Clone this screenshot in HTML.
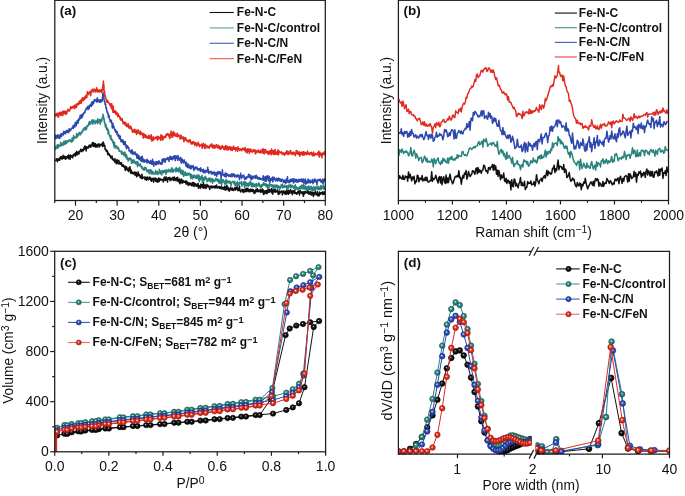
<!DOCTYPE html><html><head><meta charset="utf-8"><style>html,body{margin:0;padding:0;background:#fff;overflow:hidden}text{font-family:'Liberation Sans', sans-serif}</style></head><body><svg width="685" height="496" viewBox="0 0 685 496" style="display:block;will-change:transform;font-family:'Liberation Sans', sans-serif;fill:#111"><defs><clipPath id="ca"><rect x="54.8" y="0.3" width="270.5" height="200.2"/></clipPath><clipPath id="cb"><rect x="398.4" y="0.3" width="270.1" height="200.2"/></clipPath><radialGradient id="gk" cx="0.5" cy="0.5" r="0.5" fx="0.4" fy="0.37"><stop offset="0" stop-color="#ffffff"/><stop offset="0.1" stop-color="#b0b0b0"/><stop offset="0.26" stop-color="#3a3a3a"/><stop offset="0.5" stop-color="#141414"/><stop offset="1" stop-color="#000"/></radialGradient><radialGradient id="gt" cx="0.5" cy="0.5" r="0.5" fx="0.4" fy="0.37"><stop offset="0" stop-color="#ffffff"/><stop offset="0.1" stop-color="#e6f4f2"/><stop offset="0.26" stop-color="#6fb3ad"/><stop offset="0.5" stop-color="#2a8a84"/><stop offset="1" stop-color="#1f6662"/></radialGradient><radialGradient id="gb" cx="0.5" cy="0.5" r="0.5" fx="0.4" fy="0.37"><stop offset="0" stop-color="#ffffff"/><stop offset="0.1" stop-color="#e8ecff"/><stop offset="0.26" stop-color="#7088d8"/><stop offset="0.5" stop-color="#3150c0"/><stop offset="1" stop-color="#223a94"/></radialGradient><radialGradient id="gr" cx="0.5" cy="0.5" r="0.5" fx="0.4" fy="0.37"><stop offset="0" stop-color="#ffffff"/><stop offset="0.1" stop-color="#ffe8e4"/><stop offset="0.26" stop-color="#f47a6e"/><stop offset="0.5" stop-color="#e8321f"/><stop offset="1" stop-color="#b8231a"/></radialGradient></defs><rect width="685" height="496" fill="#fff"/><path d="M55.3 160.44L55.6 160.76L55.9 159.95L56.2 159.08L56.5 159.58L56.8 158.82L57.1 160.12L57.4 161.71L57.7 159.26L58 159.02L58.3 160.39L58.6 160.15L58.9 159.75L59.2 158.33L59.5 159.43L59.8 160.29L60.1 157.56L60.4 158.64L60.7 156.69L61 157.4L61.3 156.61L61.6 158.62L61.9 157.19L62.2 159.11L62.5 158.88L62.8 158.36L63.1 155.24L63.4 157.73L63.7 158.28L64 158.39L64.3 156.16L64.6 157.43L64.9 156.69L65.2 156.81L65.5 159.15L65.8 156.62L66.1 157.54L66.4 158.64L66.7 156.65L67 157.18L67.3 157.39L67.6 157.26L67.9 155.52L68.2 157.14L68.5 158.75L68.8 154.91L69.1 157.98L69.4 156.96L69.7 155.91L70 159.28L70.3 157.6L70.6 154.98L70.9 156.56L71.2 157.14L71.5 156.05L71.8 157.09L72.1 156.02L72.4 156.86L72.7 157.75L73 154.88L73.3 155.89L73.6 154.89L73.9 155.52L74.2 153.66L74.5 154.3L74.8 154.64L75.1 155.91L75.4 156.07L75.7 152.69L76 153.21L76.3 154.9L76.6 151.26L76.9 153.03L77.2 153.28L77.5 154.8L77.8 153.82L78.1 152.25L78.4 151.94L78.7 151.85L79 153.91L79.3 151.14L79.6 151.08L79.9 151.72L80.2 150.9L80.5 150.62L80.8 149.26L81.1 150.52L81.4 149.79L81.7 151.73L82 150.91L82.3 149.87L82.6 150.63L82.9 149.17L83.2 150.83L83.5 149.32L83.8 149.94L84.1 147.36L84.4 149.34L84.7 146.56L85 145.96L85.3 148.06L85.6 147.15L85.9 148.39L86.2 150.95L86.5 146.81L86.8 146.94L87.1 147.88L87.4 148.11L87.7 147.11L88 146.94L88.3 147.99L88.6 147.63L88.9 145.49L89.2 146.61L89.5 146.64L89.8 145.09L90.1 146.66L90.4 145.07L90.7 147.31L91 146.17L91.3 145.91L91.6 144.91L91.9 145.41L92.2 142.88L92.5 143.93L92.8 145.81L93.1 142.54L93.4 146.39L93.7 143.03L94 146.29L94.3 144.22L94.6 146.34L94.9 145.52L95.2 143.37L95.5 147.01L95.8 147.28L96.1 145.34L96.4 145.08L96.7 145.25L97 144.2L97.3 146.9L97.6 144.77L97.9 145.41L98.2 144.44L98.5 144.65L98.8 143.79L99.1 147.06L99.4 145.21L99.7 146.64L100 145.38L100.3 144.43L100.6 144.87L100.9 144.53L101.2 145.23L101.5 144.68L101.8 144.7L102.1 143.19L102.4 143.75L102.7 146.62L103 143.1L103.3 142.06L103.4 143.91L103.6 145.91L103.9 143.49L104.2 146.1L104.5 146.33L104.8 145.57L105.1 149.48L105.4 149.15L105.7 149.89L106 149.41L106.3 151.51L106.6 150.68L106.9 151.63L107.2 150.8L107.5 151.06L107.8 154.77L108.1 152.76L108.4 154.16L108.7 154.1L109 153.92L109.3 154.18L109.6 155.99L109.9 155.12L110.2 155.64L110.5 156.19L110.8 158.01L111.1 157.69L111.4 157.62L111.7 156.7L112 155.94L112.3 159.27L112.6 159.59L112.9 158.43L113.2 159.6L113.5 160.18L113.8 160.51L114.1 160.88L114.4 159.33L114.7 162.12L115 158.76L115.3 161.72L115.6 161.46L115.9 162.17L116.2 163.68L116.5 163.38L116.8 160.16L117.1 159.66L117.4 163.12L117.7 160.95L118 162.46L118.3 163.77L118.6 160.76L118.9 160.37L119.2 163.67L119.5 163.61L119.8 163.46L120.1 164.05L120.4 163.1L120.7 162.48L121 164.45L121.3 163.63L121.6 162.98L121.9 166L122.2 165.49L122.5 166.32L122.8 164.73L123.1 165.38L123.4 165.16L123.7 165.53L124 167.16L124.3 166.1L124.6 167.8L124.9 167.99L125.2 170.4L125.5 166.17L125.8 169.34L126.1 168.28L126.4 168.58L126.7 166.92L127 168.4L127.3 170.16L127.6 169.29L127.9 169.7L128.2 169.41L128.5 171.48L128.8 170.15L129.1 167.51L129.4 169.67L129.7 168.2L130 166.72L130.3 170.45L130.6 173.06L130.9 171.57L131.2 170.16L131.5 170.65L131.8 173.52L132.1 172.43L132.4 172.45L132.7 172.49L133 172.78L133.3 173.93L133.6 173.76L133.9 173.48L134.2 171.99L134.5 174.16L134.8 172.75L135.1 175.21L135.4 172.27L135.7 173.89L136 174.19L136.3 172.61L136.6 176.71L136.9 176.5L137.2 174.13L137.5 175.86L137.8 175.48L138.1 171.71L138.4 175.56L138.7 175.27L139 175.58L139.3 174.18L139.6 175.35L139.9 175.58L140.2 177.46L140.5 176.46L140.8 176.12L141.1 178.22L141.4 175.61L141.7 175.93L142 174.17L142.3 178.67L142.6 177.99L142.9 178.03L143.2 177.81L143.5 177.19L143.8 177.43L144.1 176.92L144.4 177.09L144.7 177.53L145 179.53L145.3 178.39L145.6 177.69L145.9 177.12L146.2 177.14L146.5 180.15L146.8 178.82L147.1 178.35L147.4 177.9L147.7 177L148 178.44L148.3 179.75L148.6 178.19L148.9 178.48L149.2 178.57L149.5 179.07L149.8 176.93L150.1 178.76L150.4 178.02L150.7 180.34L151 178.24L151.3 180.04L151.6 181.32L151.9 178.97L152.2 178.63L152.5 179.69L152.8 179.47L153.1 178.2L153.4 180.1L153.7 182.14L154 179.19L154.3 179.28L154.6 178.2L154.9 179.98L155.2 177.96L155.5 178.15L155.8 181.26L156.1 178.43L156.4 181.02L156.7 181.61L157 179.97L157.3 180.36L157.6 182.19L157.9 179.4L158.2 178.89L158.5 177.91L158.8 179.73L159.1 181.6L159.4 180.93L159.7 178.47L160 178.58L160.3 179.04L160.6 180.08L160.9 179.43L161.2 179.98L161.5 180.08L161.8 179.3L162.1 179.63L162.4 179.93L162.7 179.53L163 180.27L163.3 182.02L163.6 180.33L163.9 179.6L164.2 177.3L164.5 179.96L164.8 176.89L165.1 177.55L165.4 180.46L165.7 180.23L166 179.08L166.3 177.02L166.6 178.73L166.9 178.3L167.2 179.99L167.5 182.07L167.8 179.4L168.1 178.09L168.4 177.58L168.7 179.03L169 178.87L169.3 177.6L169.6 179.26L169.9 177.61L170.2 180.56L170.5 180.5L170.8 180.53L171.1 178.51L171.4 179.8L171.7 178.97L172 178.64L172.3 178.71L172.6 177.47L172.9 177.3L173.2 180.22L173.5 178.95L173.8 179.49L174.1 180.52L174.4 176.98L174.7 178.22L175 179.48L175.3 179.78L175.6 178.79L175.9 180.64L176.2 179.6L176.5 177.78L176.8 178.21L177.1 180.53L177.4 180.16L177.7 177.18L178 181.51L178.3 180.64L178.6 181.73L178.9 179.61L179.2 179.85L179.5 178.91L179.8 183.81L180.1 180.42L180.4 182.86L180.7 180.1L181 181.29L181.3 179.05L181.6 180.86L181.9 182.77L182.2 179.99L182.5 183.14L182.8 182.3L183.1 180.61L183.4 181.41L183.7 181.57L184 182.2L184.3 181.67L184.6 181.39L184.9 182.16L185.2 181.32L185.5 181.08L185.8 182.79L186.1 184.09L186.4 181.05L186.7 183.14L187 182.38L187.3 182.05L187.6 184.52L187.9 182.82L188.2 185.53L188.5 182.66L188.8 184.26L189.1 183.54L189.4 182.94L189.7 184.76L190 183.87L190.3 184.93L190.6 184.16L190.9 182.89L191.2 184.24L191.5 184.51L191.8 185.76L192.1 183.4L192.4 184.6L192.7 182.48L193 185.63L193.3 183.45L193.6 182.57L193.9 184.91L194.2 186.48L194.5 183.13L194.8 183.75L195.1 184.26L195.4 183.82L195.7 185.84L196 184.35L196.3 184.52L196.6 186.26L196.9 184.57L197.2 186.17L197.5 184.39L197.8 184.12L198.1 183.36L198.4 188.21L198.7 185.42L199 186.19L199.3 185.88L199.6 186.17L199.9 186.06L200.2 188.52L200.5 184.73L200.8 184.09L201.1 184.84L201.4 184.46L201.7 187.2L202 187.34L202.3 185.06L202.6 184.53L202.9 185.92L203.2 188.22L203.5 182.78L203.8 187.17L204.1 185.12L204.4 187.9L204.7 185.18L205 186.24L205.3 184.69L205.6 185.41L205.9 188.51L206.2 187.81L206.5 186.25L206.8 185.67L207.1 184.37L207.4 186.35L207.7 186.86L208 186.82L208.3 186.83L208.6 185.53L208.9 186.93L209.2 187L209.5 188.75L209.8 189.53L210.1 186.96L210.4 186.17L210.7 187.11L211 186.43L211.3 186.28L211.6 187.2L211.9 185.95L212.2 188.12L212.5 187.23L212.8 187.72L213.1 187.18L213.4 186.51L213.7 186.25L214 187.2L214.3 186.83L214.6 187.87L214.9 187.59L215.2 185.85L215.5 187.74L215.8 185.94L216.1 186.91L216.4 187.36L216.7 185.07L217 187.91L217.3 188.02L217.6 187.65L217.9 187.33L218.2 187.42L218.5 186.66L218.8 187.61L219.1 187.27L219.4 188.13L219.7 186.48L220 188.38L220.3 188.28L220.6 187.94L220.9 187.58L221.2 188.89L221.5 186.04L221.8 188.83L222.1 188.57L222.4 188.65L222.7 188.8L223 187.48L223.3 188.02L223.6 189.21L223.9 188.97L224.2 188.7L224.5 186.49L224.8 189.18L225.1 190.03L225.4 189.85L225.7 188.86L226 186.56L226.3 189.83L226.6 188.44L226.9 185.37L227.2 189.17L227.5 186.77L227.8 187.05L228.1 187.93L228.4 190.44L228.7 188.32L229 189.18L229.3 191.13L229.6 190.95L229.9 188.77L230.2 188.61L230.5 187.31L230.8 188.07L231.1 189.55L231.4 189.54L231.7 189.19L232 190.36L232.3 188.09L232.6 189.04L232.9 190.09L233.2 189.92L233.5 190.58L233.8 189.72L234.1 188.83L234.4 189.72L234.7 187.97L235 187.17L235.3 190.08L235.6 189.27L235.9 189.77L236.2 187.19L236.5 188.94L236.8 188.66L237.1 188.34L237.4 186.55L237.7 189.07L238 190.7L238.3 190.05L238.6 188.79L238.9 189.58L239.2 190.6L239.5 186.05L239.8 189.5L240.1 190.39L240.4 190.6L240.7 191.94L241 191.23L241.3 190.18L241.6 190.19L241.9 190.84L242.2 189.14L242.5 189.81L242.8 191.06L243.1 192.45L243.4 189.72L243.7 189.89L244 190.23L244.3 191.74L244.6 189.97L244.9 191.94L245.2 188.8L245.5 189.83L245.8 189.84L246.1 191.14L246.4 191.5L246.7 188.2L247 188.99L247.3 190.64L247.6 189.36L247.9 188.26L248.2 191.61L248.5 190.92L248.8 190.94L249.1 189.7L249.4 191.68L249.7 190.05L250 191.8L250.3 189.21L250.6 189.31L250.9 190.7L251.2 189.54L251.5 191.35L251.8 190.83L252.1 189.31L252.4 190.62L252.7 190.09L253 191.75L253.3 189.76L253.6 190.03L253.9 192.19L254.2 193.55L254.5 193.25L254.8 190.75L255.1 190.97L255.4 192.7L255.7 190.56L256 189.47L256.3 190.91L256.6 191.36L256.9 189.71L257.2 188.66L257.5 188.95L257.8 191.7L258.1 189.86L258.4 190.68L258.7 191.16L259 191.7L259.3 190.48L259.6 191.58L259.9 189.79L260.2 190.49L260.5 189.64L260.8 192.46L261.1 190.97L261.4 190.06L261.7 190.57L262 190.76L262.3 191.97L262.6 189L262.9 189.74L263.2 190.61L263.5 194.41L263.8 192.38L264.1 191L264.4 192.09L264.7 193.85L265 190.89L265.3 190.73L265.6 192.8L265.9 191.88L266.2 192.12L266.5 190.6L266.8 193.78L267.1 193.52L267.4 192.04L267.7 192.21L268 188.7L268.3 192.18L268.6 191.11L268.9 191.94L269.2 192.28L269.5 190.96L269.8 189.23L270.1 191.92L270.4 190.49L270.7 191.04L271 190.7L271.3 191.05L271.6 188.51L271.9 193.11L272.2 191.87L272.5 193L272.8 194.14L273.1 191.61L273.4 189.26L273.7 190.45L274 190.06L274.3 190.99L274.6 191.76L274.9 189.07L275.2 192.14L275.5 189.74L275.8 192.11L276.1 191.6L276.4 191.35L276.7 191.68L277 191.09L277.3 191.01L277.6 189.63L277.9 191.8L278.2 194.25L278.5 194.44L278.8 193.6L279.1 192.82L279.4 191.04L279.7 193.81L280 191.88L280.3 191.88L280.6 191.6L280.9 192.12L281.2 191.45L281.5 191.92L281.8 190.64L282.1 191.58L282.4 195.05L282.7 192.01L283 191.8L283.3 192.82L283.6 193.07L283.9 190.71L284.2 191.91L284.5 193.39L284.8 192.56L285.1 192.38L285.4 194.26L285.7 191.37L286 192.38L286.3 191.61L286.6 194.24L286.9 189.78L287.2 191.46L287.5 191.66L287.8 193.22L288.1 193.16L288.4 194.2L288.7 190.36L289 193.39L289.3 192.05L289.6 191.58L289.9 193.16L290.2 191.28L290.5 189.79L290.8 192.02L291.1 190.56L291.4 191.68L291.7 193.02L292 192.95L292.3 194.62L292.6 192.31L292.9 190.59L293.2 191.61L293.5 191.41L293.8 191.04L294.1 193.2L294.4 191.8L294.7 190.08L295 193.57L295.3 192.53L295.6 193.15L295.9 192.83L296.2 193.53L296.5 192.77L296.8 194.34L297.1 193.29L297.4 193.26L297.7 193.29L298 190.88L298.3 192.57L298.6 192.45L298.9 193.07L299.2 191.05L299.5 194.95L299.8 192.97L300.1 191.27L300.4 190.63L300.7 192.5L301 192.76L301.3 191.95L301.6 193.01L301.9 192.07L302.2 193.63L302.5 191.98L302.8 192.88L303.1 194.21L303.4 196.29L303.7 191.65L304 192.36L304.3 191.88L304.6 194L304.9 191.5L305.2 192.37L305.5 192.97L305.8 191.75L306.1 191.78L306.4 192.42L306.7 190.31L307 191.17L307.3 192.52L307.6 193.26L307.9 192.84L308.2 190.78L308.5 192.49L308.8 194.14L309.1 193.83L309.4 193.01L309.7 191.97L310 193.95L310.3 192.39L310.6 191.62L310.9 192.11L311.2 195.04L311.5 193.45L311.8 194.68L312.1 192.56L312.4 194.4L312.7 192.41L313 192.99L313.3 196.44L313.6 194.21L313.9 192.56L314.2 193.11L314.5 193.65L314.8 194.81L315.1 192.6L315.4 190.98L315.7 192.89L316 193.28L316.3 193.41L316.6 194.98L316.9 193.69L317.2 194.34L317.5 191.85L317.8 194.42L318.1 196.02L318.4 194.31L318.7 193.63L319 193.51L319.3 195.64L319.6 192.11L319.9 193.18L320.2 193.93L320.5 194.3L320.8 192.77L321.1 193.74L321.4 192.99L321.7 193.51L322 193.18L322.3 191.88L322.6 193.34L322.9 194.51L323.2 192.12L323.5 193.06L323.8 194.24L324.1 191.99L324.4 193.63L324.7 192.01L325 194.87" fill="none" stroke="#111111" stroke-width="1.5" stroke-linejoin="round" clip-path="url(#ca)"/><path d="M55.3 149.69L55.6 149.26L55.9 146.29L56.2 147.47L56.5 146.59L56.8 146.49L57.1 148.29L57.4 144.48L57.7 147.48L58 145.96L58.3 147.76L58.6 146.07L58.9 144.86L59.2 145.99L59.5 146.47L59.8 145.43L60.1 145.88L60.4 144.41L60.7 142.16L61 145.93L61.3 145.5L61.6 144.61L61.9 144.32L62.2 145.4L62.5 143.28L62.8 142.78L63.1 143.28L63.4 144.91L63.7 141.4L64 144.6L64.3 142.07L64.6 141.33L64.9 144.27L65.2 142.37L65.5 140.68L65.8 141.78L66.1 143.33L66.4 143.55L66.7 141.32L67 142.28L67.3 142.55L67.6 140.66L67.9 141.83L68.2 141.19L68.5 140.4L68.8 140.31L69.1 140.89L69.4 140.68L69.7 139.74L70 139.76L70.3 141.59L70.6 140.24L70.9 140.93L71.2 141.16L71.5 140.18L71.8 142.18L72.1 137.96L72.4 139.89L72.7 138.24L73 140.87L73.3 140.48L73.6 135.54L73.9 136.63L74.2 138.56L74.5 138.54L74.8 138.29L75.1 137.06L75.4 137.57L75.7 137.65L76 136.53L76.3 137.79L76.6 133.34L76.9 136.92L77.2 134.56L77.5 136.96L77.8 135.22L78.1 134.16L78.4 135.59L78.7 133.7L79 133.47L79.3 132.38L79.6 134.12L79.9 134.51L80.2 134.89L80.5 133.06L80.8 134.27L81.1 132.58L81.4 132.08L81.7 132.59L82 132.86L82.3 130.67L82.6 130.44L82.9 130.19L83.2 130.16L83.5 128.55L83.8 130.73L84.1 128.57L84.4 129.4L84.7 127.44L85 128.69L85.3 128.45L85.6 127.12L85.9 130.02L86.2 127.6L86.5 129.16L86.8 127.83L87.1 125.46L87.4 125.57L87.7 126.39L88 125.65L88.3 125.4L88.6 124.73L88.9 122.53L89.2 124.37L89.5 121.56L89.8 124.7L90.1 123.05L90.4 122.83L90.7 123.23L91 123.64L91.3 121.19L91.6 120.56L91.9 121.23L92.2 119.76L92.5 120.97L92.8 124.13L93.1 120.54L93.4 122.63L93.7 119.9L94 122L94.3 121.16L94.6 121.47L94.9 122.27L95.2 123.79L95.5 121.75L95.8 121.64L96.1 120.2L96.4 122.21L96.7 121.12L97 122.5L97.3 121.35L97.6 123.66L97.9 118.8L98.2 120.97L98.5 122.48L98.8 120.85L99.1 120.25L99.4 120.89L99.7 119.4L100 121.29L100.3 124.23L100.6 122.44L100.9 119.39L101.2 119.52L101.5 119.87L101.8 121.3L102.1 118.23L102.4 117.12L102.7 117.14L103 115.81L103 114.2L103.3 115.15L103.6 117.09L103.9 119.83L104.2 118.9L104.5 123.56L104.8 122.44L105.1 124.51L105.4 126.95L105.7 126.75L106 124.51L106.3 127.97L106.6 129.22L106.9 127.65L107.2 128.3L107.5 130.31L107.8 129.25L108.1 134.09L108.4 129.83L108.7 132.22L109 133.99L109.3 134.71L109.6 135.88L109.9 136.66L110.2 136.66L110.5 139.04L110.8 135.39L111.1 138.76L111.4 138.41L111.7 140.07L112 140.73L112.3 139.78L112.6 140.64L112.9 142.99L113.2 142.89L113.5 142.01L113.8 145.99L114.1 146.77L114.4 142.29L114.7 145L115 148.27L115.3 146.43L115.6 146.08L115.9 145.9L116.2 145.84L116.5 146.63L116.8 146.55L117.1 148.58L117.4 147.44L117.7 147.73L118 147.07L118.3 148.9L118.6 148.13L118.9 149.38L119.2 151.29L119.5 150.72L119.8 151.21L120.1 151.32L120.4 151.23L120.7 151.28L121 151.34L121.3 153.02L121.6 150.9L121.9 154.34L122.2 152.91L122.5 152.17L122.8 152.78L123.1 152.8L123.4 154.16L123.7 153.28L124 155.96L124.3 153.71L124.6 152.03L124.9 154.29L125.2 152.88L125.5 155.69L125.8 157.37L126.1 157.09L126.4 154.75L126.7 155.74L127 159.28L127.3 157.62L127.6 157.45L127.9 159.04L128.2 161.09L128.5 159.81L128.8 158.53L129.1 159.04L129.4 159.6L129.7 158.22L130 157.86L130.3 159.52L130.6 158.44L130.9 159.8L131.2 160.22L131.5 163.35L131.8 159.41L132.1 160.57L132.4 160.72L132.7 161.71L133 162.71L133.3 160.91L133.6 160.68L133.9 159.82L134.2 160.94L134.5 163.04L134.8 162.6L135.1 161.42L135.4 162.46L135.7 163.18L136 163.99L136.3 162.76L136.6 163.41L136.9 161.57L137.2 162.63L137.5 166.43L137.8 161.68L138.1 164.29L138.4 165.21L138.7 164.63L139 164.27L139.3 165.44L139.6 165.71L139.9 165.8L140.2 163.66L140.5 166.1L140.8 165.38L141.1 165.97L141.4 167.17L141.7 167.89L142 168.42L142.3 166.8L142.6 168.85L142.9 169.37L143.2 169.52L143.5 170.05L143.8 168.25L144.1 168.41L144.4 169.9L144.7 167.24L145 169.48L145.3 168.7L145.6 169.09L145.9 167.47L146.2 168.74L146.5 170.03L146.8 171.36L147.1 171.63L147.4 170.38L147.7 170.39L148 169.7L148.3 171.45L148.6 170.76L148.9 172.01L149.2 173.65L149.5 171.47L149.8 169.71L150.1 170.67L150.4 170.02L150.7 170.48L151 173.85L151.3 172.54L151.6 170.36L151.9 173.27L152.2 174.12L152.5 172.07L152.8 171.7L153.1 172.16L153.4 172.97L153.7 173.43L154 174.13L154.3 174.17L154.6 174.13L154.9 174.36L155.2 173.45L155.5 170.59L155.8 172.41L156.1 172.98L156.4 172.07L156.7 173.75L157 172.09L157.3 171.34L157.6 174.42L157.9 173.4L158.2 172.81L158.5 173.72L158.8 173.88L159.1 172.93L159.4 169.28L159.7 171.59L160 171.86L160.3 171.16L160.6 172.69L160.9 173.97L161.2 171.77L161.5 170.91L161.8 174.99L162.1 171.71L162.4 170.63L162.7 172.46L163 172.61L163.3 171.04L163.6 172.87L163.9 171.09L164.2 170.4L164.5 171.7L164.8 172.34L165.1 170.38L165.4 171.5L165.7 170.82L166 174.49L166.3 169.77L166.6 172.38L166.9 170.41L167.2 170.21L167.5 171.23L167.8 171.38L168.1 171.81L168.4 170.55L168.7 169.31L169 169.37L169.3 170.71L169.6 170.79L169.9 171.83L170.2 170.54L170.5 171.35L170.8 171.93L171.1 170.15L171.4 167.99L171.7 168.38L172 168.03L172.3 171.95L172.6 168.77L172.9 171.46L173.2 170.61L173.5 172.07L173.8 171.13L174.1 169.69L174.4 169.55L174.7 169.92L175 170.03L175.3 169.11L175.6 169.76L175.9 171.89L176.2 167.6L176.5 170.17L176.8 168.7L177.1 170.18L177.4 171.09L177.7 170.01L178 171.19L178.3 168.22L178.6 171.84L178.9 169.74L179.2 171.46L179.5 171.03L179.8 167.57L180.1 170.1L180.4 171.52L180.7 173.4L181 171.91L181.3 172.03L181.6 170.01L181.9 173.86L182.2 174.49L182.5 172.32L182.8 172.14L183.1 170.45L183.4 173.83L183.7 176.33L184 173.89L184.3 174.74L184.6 173.95L184.9 172.11L185.2 175.28L185.5 172.09L185.8 173.58L186.1 174.37L186.4 175.31L186.7 174.86L187 174.98L187.3 173.64L187.6 173.11L187.9 175.01L188.2 174.15L188.5 173.51L188.8 173.7L189.1 174.84L189.4 173.2L189.7 173.97L190 173.71L190.3 176.17L190.6 176.56L190.9 178.73L191.2 174.26L191.5 175.41L191.8 177.56L192.1 176.18L192.4 176.11L192.7 178.83L193 176.25L193.3 175.26L193.6 175.12L193.9 177.33L194.2 177.36L194.5 175.25L194.8 175.81L195.1 177.85L195.4 177.97L195.7 176.45L196 178.15L196.3 178.15L196.6 175.15L196.9 177.12L197.2 178.12L197.5 176.9L197.8 174.92L198.1 177.39L198.4 178.79L198.7 179.93L199 175.08L199.3 181.39L199.6 176.58L199.9 179.34L200.2 179.76L200.5 179.49L200.8 178.46L201.1 176.81L201.4 179.18L201.7 177.49L202 175.2L202.3 182.2L202.6 179.5L202.9 180.99L203.2 177.5L203.5 180.64L203.8 180.85L204.1 180.85L204.4 178.85L204.7 177.37L205 178.75L205.3 176.16L205.6 176.86L205.9 179.24L206.2 177.88L206.5 179L206.8 179.12L207.1 181.82L207.4 181.04L207.7 179.34L208 181.02L208.3 178.48L208.6 179.1L208.9 180.77L209.2 178.01L209.5 179.31L209.8 178L210.1 179.92L210.4 181.93L210.7 178.87L211 180.19L211.3 178.77L211.6 178.49L211.9 178.42L212.2 181.96L212.5 183.19L212.8 180.79L213.1 179.27L213.4 181.16L213.7 179.85L214 181.37L214.3 180.75L214.6 180.78L214.9 181.25L215.2 179.75L215.5 180.01L215.8 178.34L216.1 180.05L216.4 178.82L216.7 180.52L217 179.5L217.3 180.92L217.6 181.42L217.9 179.02L218.2 179.85L218.5 179.72L218.8 181.96L219.1 183.25L219.4 182.17L219.7 180.65L220 183.05L220.3 179.21L220.6 183.17L220.9 180.41L221.2 177.68L221.5 184.78L221.8 183.43L222.1 180.07L222.4 181.67L222.7 181.21L223 181.66L223.3 179.63L223.6 180.71L223.9 182.24L224.2 181.96L224.5 183.27L224.8 181.85L225.1 184.83L225.4 180.88L225.7 182.19L226 179.39L226.3 180.29L226.6 183.68L226.9 180.76L227.2 182.71L227.5 181.98L227.8 180.73L228.1 181.67L228.4 181.49L228.7 181.56L229 183.2L229.3 183.1L229.6 181.54L229.9 181.14L230.2 182.72L230.5 182.25L230.8 183.75L231.1 185.9L231.4 183.58L231.7 182.47L232 182.32L232.3 181.46L232.6 181.42L232.9 181.33L233.2 182.15L233.5 182.14L233.8 183.69L234.1 182.24L234.4 182.53L234.7 181.23L235 184.98L235.3 183.53L235.6 185.23L235.9 183.97L236.2 184.9L236.5 182.67L236.8 183.95L237.1 186.57L237.4 181.49L237.7 184.64L238 185.35L238.3 183.72L238.6 184.2L238.9 184.89L239.2 182.39L239.5 183.83L239.8 182.16L240.1 182.45L240.4 182.56L240.7 183.22L241 183.63L241.3 184.07L241.6 181.61L241.9 186.17L242.2 185.1L242.5 184.56L242.8 183.15L243.1 183.54L243.4 184.41L243.7 184.26L244 181.51L244.3 184.77L244.6 187.7L244.9 181.38L245.2 185.2L245.5 184.4L245.8 183.79L246.1 185.8L246.4 182.42L246.7 184.25L247 186.02L247.3 183.83L247.6 183.57L247.9 184.31L248.2 183.59L248.5 186.28L248.8 183.04L249.1 185.45L249.4 182.64L249.7 185.23L250 184.23L250.3 180.95L250.6 184.42L250.9 183.03L251.2 183.89L251.5 186.57L251.8 183.05L252.1 183.15L252.4 186.52L252.7 184.78L253 186.71L253.3 185.11L253.6 183.52L253.9 184.64L254.2 186.39L254.5 186.03L254.8 184.8L255.1 184.89L255.4 184.7L255.7 184.1L256 187.48L256.3 184.93L256.6 183.43L256.9 184.33L257.2 185.96L257.5 185.87L257.8 184.85L258.1 184.16L258.4 185.11L258.7 182.86L259 183.38L259.3 186.21L259.6 184.53L259.9 185.69L260.2 186.84L260.5 186.1L260.8 185.28L261.1 188.12L261.4 186.19L261.7 184.84L262 186.32L262.3 185.9L262.6 184.23L262.9 185.5L263.2 185.2L263.5 182.81L263.8 185.23L264.1 185.1L264.4 184.91L264.7 183.32L265 185.07L265.3 185.51L265.6 185.72L265.9 184.08L266.2 186.47L266.5 184.02L266.8 185.36L267.1 187.43L267.4 184.78L267.7 185.04L268 187.17L268.3 185.25L268.6 185.38L268.9 186.1L269.2 187.22L269.5 182.9L269.8 184.75L270.1 184.53L270.4 184.45L270.7 184.78L271 184.82L271.3 186.36L271.6 184.79L271.9 186.16L272.2 186.55L272.5 185.07L272.8 186.23L273.1 188.26L273.4 186.53L273.7 185.27L274 186.05L274.3 184.94L274.6 186.54L274.9 187.35L275.2 185.13L275.5 185.97L275.8 187.74L276.1 185.63L276.4 186.56L276.7 184.97L277 185.26L277.3 185.69L277.6 189.22L277.9 185.88L278.2 185.75L278.5 185.72L278.8 186.26L279.1 187.35L279.4 186.77L279.7 189.22L280 186.84L280.3 188.46L280.6 186.96L280.9 187.41L281.2 184.77L281.5 186.5L281.8 186.6L282.1 186.39L282.4 183.93L282.7 187.89L283 186.27L283.3 186.22L283.6 186.48L283.9 186.54L284.2 187.38L284.5 185.22L284.8 185.68L285.1 187.29L285.4 187.12L285.7 186.46L286 186.23L286.3 185.91L286.6 186.94L286.9 188.57L287.2 185.67L287.5 189.05L287.8 188.19L288.1 186.52L288.4 188.14L288.7 185.24L289 184.91L289.3 185.5L289.6 186.66L289.9 186.79L290.2 186.56L290.5 187.38L290.8 184.49L291.1 187.93L291.4 185.46L291.7 186.46L292 186.8L292.3 185.85L292.6 185.58L292.9 186.07L293.2 187.38L293.5 188.18L293.8 188.16L294.1 186.15L294.4 186.43L294.7 186.27L295 188.07L295.3 184.85L295.6 189.13L295.9 186.91L296.2 186.53L296.5 188.01L296.8 188.93L297.1 188.05L297.4 188.99L297.7 187.81L298 189.25L298.3 189.29L298.6 187.55L298.9 189.57L299.2 187.93L299.5 187.85L299.8 186.55L300.1 187.39L300.4 188.79L300.7 186.09L301 188.66L301.3 188.28L301.6 188.2L301.9 184.99L302.2 187.74L302.5 188.73L302.8 186.91L303.1 188.04L303.4 184.84L303.7 188.82L304 187.1L304.3 189.11L304.6 185.59L304.9 188.9L305.2 187.71L305.5 189.08L305.8 186.84L306.1 187.25L306.4 190.98L306.7 186.99L307 187.17L307.3 187.73L307.6 186.77L307.9 189.66L308.2 190.37L308.5 187.22L308.8 185.9L309.1 189.67L309.4 189.6L309.7 189.23L310 189.67L310.3 187.05L310.6 187.96L310.9 186.38L311.2 186.34L311.5 189.47L311.8 187.32L312.1 191.16L312.4 188.29L312.7 187.37L313 189.24L313.3 190.54L313.6 188.83L313.9 186.62L314.2 188.68L314.5 189.99L314.8 187.56L315.1 187.19L315.4 189.52L315.7 188.38L316 186.77L316.3 187.71L316.6 187.22L316.9 188.59L317.2 188.34L317.5 189.7L317.8 189.12L318.1 186.17L318.4 188.73L318.7 189.37L319 188.79L319.3 189.54L319.6 187.49L319.9 186.96L320.2 189.41L320.5 186.81L320.8 185.39L321.1 189.53L321.4 187.26L321.7 187.8L322 186.38L322.3 186.48L322.6 186.7L322.9 187.73L323.2 188.68L323.5 185.21L323.8 189.18L324.1 186.66L324.4 186.81L324.7 189.08L325 188.1" fill="none" stroke="#2a837e" stroke-width="1.5" stroke-linejoin="round" clip-path="url(#ca)"/><path d="M55.3 134.44L55.6 138.81L55.9 135.26L56.2 136.65L56.5 136.55L56.8 138.07L57.1 135.59L57.4 137.44L57.7 135.11L58 137.47L58.3 134.96L58.6 135.42L58.9 138.29L59.2 136.16L59.5 135.82L59.8 138.51L60.1 135.97L60.4 134.35L60.7 136.26L61 133.66L61.3 136.55L61.6 136.53L61.9 134.09L62.2 133.89L62.5 134.8L62.8 134.45L63.1 133.02L63.4 134.89L63.7 131.35L64 133.29L64.3 133.17L64.6 133.17L64.9 133.75L65.2 131.57L65.5 133.74L65.8 132.54L66.1 131.72L66.4 130.57L66.7 130.59L67 132.36L67.3 130.41L67.6 131.51L67.9 132.56L68.2 132.28L68.5 132.72L68.8 130.06L69.1 128.79L69.4 131.27L69.7 130.09L70 130.88L70.3 129.16L70.6 130.42L70.9 129.68L71.2 129.22L71.5 128.64L71.8 128.21L72.1 127.69L72.4 127.37L72.7 128.06L73 125.79L73.3 128.4L73.6 125.69L73.9 126.79L74.2 125.08L74.5 124.56L74.8 127.2L75.1 123.84L75.4 122.25L75.7 122.66L76 122.85L76.3 125.73L76.6 122.86L76.9 123.47L77.2 120.6L77.5 122.02L77.8 122.08L78.1 123.19L78.4 119.58L78.7 120.9L79 120.14L79.3 118.04L79.6 118.96L79.9 118.24L80.2 115.16L80.5 118.54L80.8 118.05L81.1 116.35L81.4 114.75L81.7 117.98L82 115.97L82.3 116.5L82.6 116.58L82.9 113.63L83.2 114.92L83.5 113.11L83.8 112.91L84.1 112.44L84.4 112.1L84.7 113.09L85 111.34L85.3 110.51L85.6 109.89L85.9 110.24L86.2 108.18L86.5 108.26L86.8 108.44L87.1 107.38L87.4 107.59L87.7 106.59L88 109.64L88.3 108.42L88.6 106.95L88.9 105.97L89.2 108.58L89.5 105.84L89.8 105.01L90.1 105.23L90.4 104.95L90.7 106.12L91 103.99L91.3 106.48L91.6 102.34L91.9 104.13L92.2 101.68L92.5 105.1L92.8 102.07L93.1 102.2L93.4 103.27L93.7 103.5L94 100.24L94.3 101.06L94.6 99.52L94.9 101.34L95.2 100.85L95.5 100.36L95.8 99.77L96.1 100.03L96.4 99.46L96.7 101.05L97 102.3L97.3 97.84L97.6 100.28L97.9 100.01L98.2 101.35L98.5 99.64L98.8 100.87L99.1 99.89L99.4 102.31L99.7 101.66L100 101.41L100.3 102.14L100.6 101.29L100.9 99.46L101.2 102.02L101.5 101.29L101.8 100.25L102.1 101.04L102.4 100.2L102.7 95.18L103 92.69L103.2 94.79L103.3 94.98L103.6 95.24L103.9 97.52L104.2 100.15L104.5 101.74L104.8 101.49L105.1 104.6L105.4 103.81L105.7 104.84L106 108.59L106.3 107.52L106.6 109.34L106.9 111.28L107.2 112.55L107.5 112.05L107.8 113.5L108.1 113.27L108.4 117.43L108.7 116.78L109 115.24L109.3 117.39L109.6 119L109.9 119.37L110.2 121.8L110.5 121.88L110.8 120.08L111.1 121.36L111.4 120.54L111.7 123.29L112 123.96L112.3 128.06L112.6 125.44L112.9 123.31L113.2 125.81L113.5 127.45L113.8 126.27L114.1 127.37L114.4 128.59L114.7 130.07L115 129.96L115.3 129.55L115.6 132.26L115.9 131.04L116.2 131.6L116.5 130.94L116.8 132.2L117.1 134.55L117.4 132.06L117.7 134.54L118 136.02L118.3 135.05L118.6 136.3L118.9 134.98L119.2 138.57L119.5 138.73L119.8 138.04L120.1 135.87L120.4 137.21L120.7 140.25L121 141.61L121.3 140.17L121.6 141.8L121.9 139.78L122.2 140.71L122.5 141.34L122.8 142.27L123.1 140.11L123.4 143.69L123.7 144.55L124 141.7L124.3 141.79L124.6 144.36L124.9 143.41L125.2 141.52L125.5 146L125.8 145.5L126.1 145.01L126.4 148.72L126.7 146.49L127 145.66L127.3 147.1L127.6 145.95L127.9 146.63L128.2 148.45L128.5 147.54L128.8 147.99L129.1 151.06L129.4 150.32L129.7 150.55L130 150.49L130.3 150.73L130.6 152.29L130.9 150.66L131.2 153.39L131.5 150.02L131.8 151.2L132.1 150.01L132.4 151.63L132.7 153.01L133 154.48L133.3 151.99L133.6 153.11L133.9 152.89L134.2 152.65L134.5 152.31L134.8 154.18L135.1 152.09L135.4 154.73L135.7 154.85L136 154.2L136.3 153.97L136.6 153.71L136.9 158.17L137.2 154.21L137.5 158.2L137.8 157.17L138.1 156.12L138.4 155.3L138.7 158.36L139 159.45L139.3 156.18L139.6 157.19L139.9 159.13L140.2 158.38L140.5 160.71L140.8 157.54L141.1 159.16L141.4 156.99L141.7 161.5L142 157.99L142.3 156.22L142.6 159.08L142.9 159.21L143.2 162.02L143.5 159.23L143.8 159.79L144.1 160.71L144.4 162.12L144.7 160.1L145 161.65L145.3 161.09L145.6 160.15L145.9 160.75L146.2 160.81L146.5 159.71L146.8 162.6L147.1 159.34L147.4 162.79L147.7 162.63L148 161.39L148.3 160.63L148.6 161.45L148.9 162.47L149.2 162.94L149.5 162.45L149.8 163.47L150.1 161.56L150.4 162.68L150.7 160.43L151 163.55L151.3 162.83L151.6 162.16L151.9 164.28L152.2 163.73L152.5 159.22L152.8 162.97L153.1 161.06L153.4 164.37L153.7 166.23L154 162.32L154.3 163.09L154.6 162.66L154.9 163.43L155.2 163.8L155.5 164.61L155.8 161.63L156.1 164.93L156.4 161.64L156.7 163.18L157 164.29L157.3 163.66L157.6 161.47L157.9 161.73L158.2 161.99L158.5 162.48L158.8 163.98L159.1 160.76L159.4 162.99L159.7 163.11L160 162.99L160.3 162.81L160.6 164.12L160.9 162.71L161.2 163.13L161.5 162.69L161.8 164.21L162.1 159.33L162.4 163.37L162.7 161.26L163 161.12L163.3 160.11L163.6 158.81L163.9 160.62L164.2 160.09L164.5 161.48L164.8 158.79L165.1 162.42L165.4 160.77L165.7 159.95L166 159.21L166.3 158.97L166.6 158.39L166.9 159.02L167.2 159.61L167.5 159.25L167.8 157.53L168.1 158.91L168.4 158L168.7 159.28L169 161.4L169.3 159.7L169.6 158.39L169.9 156.59L170.2 156.76L170.5 156.32L170.8 159.36L171.1 157.33L171.4 158.31L171.7 157.33L172 158.17L172.3 159.79L172.6 157L172.9 157.37L173.2 156.69L173.5 158.81L173.8 156.28L174.1 156.09L174.4 155.71L174.7 155.64L175 158.05L175.3 160.76L175.6 156.11L175.9 158.64L176.2 157.74L176.5 156.02L176.8 157.15L177.1 157.3L177.4 156.81L177.7 160.34L178 155.49L178.3 158.62L178.6 158.73L178.9 157.73L179.2 158.88L179.5 160.03L179.8 159.3L180.1 159.87L180.4 160.45L180.7 157.14L181 161.93L181.3 163.2L181.6 161.74L181.9 162.01L182.2 159.08L182.5 160.98L182.8 160.28L183.1 160.77L183.4 162.99L183.7 160.88L184 161.97L184.3 159.87L184.6 162.37L184.9 162.92L185.2 162.12L185.5 162.34L185.8 165.96L186.1 162.17L186.4 162.62L186.7 163.17L187 166.02L187.3 167.42L187.6 165.35L187.9 164.21L188.2 164.8L188.5 166.95L188.8 164.58L189.1 167.85L189.4 167.98L189.7 166.4L190 167.31L190.3 167.59L190.6 168.76L190.9 165.5L191.2 168.51L191.5 166.6L191.8 166.19L192.1 167.43L192.4 167.11L192.7 166.2L193 165.5L193.3 166.43L193.6 169.63L193.9 170.38L194.2 168.75L194.5 169.53L194.8 167.39L195.1 168.04L195.4 168.59L195.7 166.89L196 167.09L196.3 168.59L196.6 168.13L196.9 167.24L197.2 169.22L197.5 168.46L197.8 170.23L198.1 168.99L198.4 168.71L198.7 169.37L199 169.09L199.3 168.55L199.6 169.01L199.9 170.62L200.2 170.6L200.5 171.55L200.8 167.79L201.1 169.6L201.4 169.68L201.7 170.56L202 169.86L202.3 169.89L202.6 171.68L202.9 171L203.2 169.35L203.5 172.7L203.8 172.35L204.1 170.4L204.4 172.31L204.7 170.35L205 172.84L205.3 171.16L205.6 170.46L205.9 171.08L206.2 170.63L206.5 171.93L206.8 171.97L207.1 171.84L207.4 171.12L207.7 167.13L208 172.06L208.3 169.52L208.6 172.35L208.9 173.55L209.2 172.48L209.5 171.66L209.8 171.98L210.1 172.09L210.4 171.59L210.7 171.59L211 171.19L211.3 173.98L211.6 172.46L211.9 173.77L212.2 172.24L212.5 172.71L212.8 172.44L213.1 173.31L213.4 173.83L213.7 173.11L214 171.97L214.3 171.87L214.6 175.09L214.9 172.61L215.2 172.64L215.5 174.97L215.8 174.52L216.1 173.85L216.4 172.68L216.7 176.3L217 173.79L217.3 174.04L217.6 173.15L217.9 171.58L218.2 171.73L218.5 174.04L218.8 174.07L219.1 173.29L219.4 172.13L219.7 171.83L220 173.32L220.3 171.91L220.6 175.02L220.9 175.4L221.2 177.64L221.5 175.16L221.8 173.3L222.1 173L222.4 169.7L222.7 173.47L223 174.07L223.3 175.61L223.6 175.21L223.9 175.23L224.2 174.8L224.5 175.44L224.8 176.52L225.1 173.31L225.4 174.15L225.7 172.99L226 176.95L226.3 176.58L226.6 175.92L226.9 173.43L227.2 175.25L227.5 174.77L227.8 175.22L228.1 174.91L228.4 175.87L228.7 174.72L229 176.39L229.3 175.63L229.6 174.97L229.9 175.25L230.2 174.86L230.5 176.52L230.8 175.15L231.1 175.92L231.4 175.06L231.7 173.68L232 176.82L232.3 174.3L232.6 176.6L232.9 176.29L233.2 173.63L233.5 174.58L233.8 175.18L234.1 174.81L234.4 174.37L234.7 176.9L235 175.66L235.3 176.51L235.6 175.48L235.9 176.46L236.2 175.12L236.5 176.09L236.8 176.92L237.1 176.25L237.4 175.62L237.7 174.83L238 176.49L238.3 176.75L238.6 176L238.9 175.36L239.2 177.09L239.5 179.64L239.8 176.05L240.1 176.91L240.4 176.99L240.7 173.19L241 176.71L241.3 175.66L241.6 178.4L241.9 176.29L242.2 175.64L242.5 176.39L242.8 176.92L243.1 175.99L243.4 176.68L243.7 175.01L244 176.5L244.3 177.82L244.6 179.4L244.9 177.78L245.2 177.24L245.5 178.44L245.8 178.25L246.1 179.11L246.4 178.38L246.7 176.84L247 177.35L247.3 177.27L247.6 177.45L247.9 177.34L248.2 176.08L248.5 174.38L248.8 176.27L249.1 174.53L249.4 177.27L249.7 177.21L250 175.05L250.3 178.14L250.6 178.4L250.9 177.42L251.2 179.48L251.5 179.77L251.8 175.79L252.1 178.73L252.4 177.98L252.7 177.97L253 178.67L253.3 176.54L253.6 176.73L253.9 176.45L254.2 176.57L254.5 177.45L254.8 175.71L255.1 176.27L255.4 178.4L255.7 177.58L256 178.2L256.3 175.27L256.6 176.74L256.9 177.06L257.2 177.85L257.5 177.07L257.8 179.08L258.1 177.81L258.4 177.94L258.7 177.96L259 178.89L259.3 177.39L259.6 179.49L259.9 178.65L260.2 178.29L260.5 178.17L260.8 178.82L261.1 179.49L261.4 179.43L261.7 178.72L262 179.39L262.3 178.44L262.6 179.94L262.9 178.31L263.2 175.67L263.5 180.14L263.8 178.57L264.1 176.93L264.4 178.23L264.7 177.36L265 181.27L265.3 179.22L265.6 176.56L265.9 179.34L266.2 178.14L266.5 181.17L266.8 177.34L267.1 175.82L267.4 178.85L267.7 178.34L268 178.28L268.3 176.07L268.6 179.43L268.9 181.08L269.2 176.45L269.5 180.48L269.8 178.25L270.1 182.07L270.4 179.61L270.7 178.82L271 180.53L271.3 179.81L271.6 178.38L271.9 180.1L272.2 178.54L272.5 176.9L272.8 181.89L273.1 178.82L273.4 178.51L273.7 179.77L274 177.32L274.3 177.62L274.6 178.75L274.9 178.75L275.2 179.55L275.5 180.94L275.8 178.89L276.1 180.18L276.4 180.35L276.7 178.19L277 179.92L277.3 178.43L277.6 181.06L277.9 180.3L278.2 179.76L278.5 178.03L278.8 179.95L279.1 178.83L279.4 180.77L279.7 179.73L280 178.86L280.3 181.15L280.6 180.91L280.9 179.23L281.2 181.54L281.5 179.67L281.8 179.69L282.1 180.28L282.4 179.17L282.7 179.6L283 179.99L283.3 182.22L283.6 182.2L283.9 179.94L284.2 182.4L284.5 180.28L284.8 180.85L285.1 181.53L285.4 180.79L285.7 183.57L286 180.77L286.3 178.92L286.6 182.2L286.9 179.99L287.2 180.15L287.5 176.67L287.8 181.88L288.1 181.67L288.4 181.66L288.7 181.91L289 182.85L289.3 180.61L289.6 181.91L289.9 179.73L290.2 180.25L290.5 182.1L290.8 181.25L291.1 179.02L291.4 181.23L291.7 180.53L292 179.71L292.3 181.35L292.6 180.26L292.9 178.75L293.2 179.35L293.5 183.1L293.8 178.84L294.1 181.1L294.4 181.6L294.7 181.64L295 179.22L295.3 180.4L295.6 181L295.9 181.86L296.2 179.98L296.5 179.31L296.8 182.13L297.1 182.27L297.4 181.31L297.7 180.04L298 181.36L298.3 180.98L298.6 181.93L298.9 179.21L299.2 180.99L299.5 180.63L299.8 179.4L300.1 181.12L300.4 180.89L300.7 180.31L301 181.36L301.3 179L301.6 180.78L301.9 181.41L302.2 181.22L302.5 182.25L302.8 179.29L303.1 178.89L303.4 181.16L303.7 181.45L304 183.61L304.3 181.66L304.6 179.72L304.9 181.91L305.2 179.76L305.5 178.93L305.8 184.25L306.1 181.29L306.4 181.79L306.7 181.6L307 183.22L307.3 181.24L307.6 182.45L307.9 179.53L308.2 179.06L308.5 182.73L308.8 182.79L309.1 181.54L309.4 181.17L309.7 181.09L310 179.98L310.3 182.88L310.6 181.74L310.9 181.54L311.2 181.38L311.5 182.25L311.8 181.55L312.1 181.86L312.4 179.37L312.7 181.56L313 183.74L313.3 180.23L313.6 180.74L313.9 182.07L314.2 182.15L314.5 181.72L314.8 178.81L315.1 181.57L315.4 179.38L315.7 179.85L316 181.64L316.3 180.55L316.6 181.99L316.9 185.04L317.2 181.96L317.5 181.89L317.8 179.79L318.1 180.13L318.4 179.58L318.7 180.28L319 179.56L319.3 180.12L319.6 180.71L319.9 179.69L320.2 179.15L320.5 179.23L320.8 181.6L321.1 181.09L321.4 182.35L321.7 182.38L322 180.59L322.3 181.91L322.6 179.17L322.9 184.02L323.2 182.61L323.5 180.78L323.8 179.55L324.1 181.57L324.4 178.65L324.7 180.07L325 182.06" fill="none" stroke="#2c47ae" stroke-width="1.5" stroke-linejoin="round" clip-path="url(#ca)"/><path d="M55.3 115.22L55.6 114.42L55.9 116.23L56.2 113.58L56.5 115.23L56.8 114.15L57.1 113.63L57.4 115.26L57.7 113.3L58 117L58.3 113.7L58.6 116.98L58.9 112.9L59.2 115.04L59.5 112.63L59.8 112.38L60.1 114.27L60.4 114.88L60.7 112.28L61 115.41L61.3 112.77L61.6 113.91L61.9 114.17L62.2 114.38L62.5 111.2L62.8 115.57L63.1 114.12L63.4 112.75L63.7 111.89L64 110.93L64.3 111.26L64.6 113.63L64.9 112.37L65.2 111.22L65.5 111.87L65.8 114.45L66.1 111.84L66.4 111.36L66.7 113.73L67 112.41L67.3 111.71L67.6 110.7L67.9 109.3L68.2 109.61L68.5 110.32L68.8 110.47L69.1 111.02L69.4 111.07L69.7 110.43L70 110.21L70.3 108.4L70.6 106.69L70.9 108.59L71.2 107.8L71.5 107.96L71.8 108.23L72.1 106.74L72.4 106.68L72.7 107.77L73 107.82L73.3 106.59L73.6 107.86L73.9 106.7L74.2 105.42L74.5 106.56L74.8 108.71L75.1 105.14L75.4 107.29L75.7 107.32L76 107.23L76.3 103.97L76.6 107.42L76.9 104.7L77.2 103.97L77.5 103.76L77.8 104.59L78.1 103.63L78.4 103.08L78.7 104.73L79 101.87L79.3 101.2L79.6 103.34L79.9 102.97L80.2 103.23L80.5 100.17L80.8 102.73L81.1 101.71L81.4 103.14L81.7 98.98L82 100.65L82.3 99.76L82.6 97.81L82.9 98.69L83.2 100.82L83.5 98.47L83.8 97.86L84.1 99.63L84.4 99.48L84.7 99.15L85 96.52L85.3 97.13L85.6 98.21L85.9 95.69L86.2 95.24L86.5 96.97L86.8 97.61L87.1 93.79L87.4 91.62L87.7 92.82L88 93.1L88.3 93.95L88.6 94.65L88.9 93.38L89.2 92.39L89.5 93.24L89.8 91.55L90.1 92.51L90.4 91.53L90.7 95.66L91 93.07L91.3 90.75L91.6 90.38L91.9 90.94L92.2 89.22L92.5 90.26L92.8 90.12L93.1 92.11L93.4 90.3L93.7 89.74L94 88.95L94.3 89.12L94.6 90.52L94.9 90.28L95.2 92L95.5 89.66L95.8 91.82L96.1 90.75L96.4 90.38L96.7 87.75L97 88.66L97.3 91.28L97.6 92.12L97.9 90.58L98.2 91.34L98.5 89.89L98.8 90.03L99.1 89.75L99.4 91.97L99.7 91.24L100 90.54L100.3 90.43L100.6 91.53L100.9 91.14L101.2 89.5L101.5 92.62L101.8 90.42L102.1 89.62L102.4 90.68L102.7 88.57L103 84.8L103.3 83.18L103.4 81.06L103.6 83.39L103.9 85.56L104.2 93.27L104.5 91.28L104.8 96.09L105.1 95.22L105.4 95.88L105.7 97.62L106 98.87L106.3 99.91L106.6 101.97L106.9 100.64L107.2 101.81L107.5 100.35L107.8 102.51L108.1 102.22L108.4 101.84L108.7 102.74L109 103.2L109.3 103.95L109.6 104.65L109.9 103.89L110.2 104.02L110.5 106.4L110.8 103.67L111.1 105.52L111.4 108.79L111.7 103.69L112 106.75L112.3 108.99L112.6 106.39L112.9 112.35L113.2 106.04L113.5 111.7L113.8 112.28L114.1 111.86L114.4 110.79L114.7 111.95L115 110.72L115.3 113.33L115.6 111.21L115.9 112.69L116.2 114.71L116.5 112.34L116.8 113.68L117.1 114.73L117.4 113.13L117.7 116.75L118 116.03L118.3 113.96L118.6 116.22L118.9 115.61L119.2 116.1L119.5 117.39L119.8 116.71L120.1 119.21L120.4 117.37L120.7 119.89L121 118.88L121.3 120.37L121.6 118.87L121.9 119.22L122.2 118.69L122.5 121.25L122.8 122.02L123.1 123.86L123.4 123.08L123.7 122.03L124 121.72L124.3 122.8L124.6 122.55L124.9 124.79L125.2 124.42L125.5 122.41L125.8 122.91L126.1 125.89L126.4 124.82L126.7 124.42L127 126.57L127.3 124.82L127.6 125.27L127.9 125.33L128.2 123.67L128.5 127.63L128.8 125.22L129.1 126.33L129.4 126.37L129.7 128.55L130 127.77L130.3 128.13L130.6 126.16L130.9 128.46L131.2 126.88L131.5 129.41L131.8 129.69L132.1 129.39L132.4 132.27L132.7 130.49L133 130.77L133.3 130.36L133.6 130.11L133.9 131.79L134.2 132.14L134.5 129.19L134.8 132.42L135.1 131.88L135.4 132.63L135.7 132.15L136 130.08L136.3 130.33L136.6 134.38L136.9 132.5L137.2 130.48L137.5 132.93L137.8 132.16L138.1 130.38L138.4 129.95L138.7 131L139 133.59L139.3 133.32L139.6 133.21L139.9 134.06L140.2 134.63L140.5 131.27L140.8 133.77L141.1 133.25L141.4 132.89L141.7 133.94L142 134.66L142.3 134.63L142.6 133.25L142.9 134.67L143.2 138.07L143.5 134.22L143.8 133.54L144.1 136.22L144.4 136.76L144.7 136.7L145 134.74L145.3 137.59L145.6 135.37L145.9 135.01L146.2 135.79L146.5 136.54L146.8 137.7L147.1 137.68L147.4 136.93L147.7 138.26L148 137.25L148.3 138.39L148.6 135.49L148.9 135.35L149.2 138.49L149.5 135.75L149.8 137.24L150.1 137.57L150.4 137.14L150.7 137.24L151 139.7L151.3 134.66L151.6 139.15L151.9 141.03L152.2 138.11L152.5 138.09L152.8 139.09L153.1 140.55L153.4 136.64L153.7 138.31L154 137.96L154.3 138.92L154.6 138.4L154.9 139.04L155.2 137.63L155.5 138.23L155.8 137.28L156.1 137.27L156.4 137.94L156.7 137.91L157 136.55L157.3 140.09L157.6 137.85L157.9 136.2L158.2 139.4L158.5 136.97L158.8 138.57L159.1 137.85L159.4 138.17L159.7 138.03L160 137.02L160.3 137.78L160.6 140.34L160.9 134.74L161.2 137.7L161.5 138.13L161.8 136.13L162.1 135.63L162.4 140.11L162.7 136.7L163 139.75L163.3 137.6L163.6 136.84L163.9 137.2L164.2 137.24L164.5 137.77L164.8 136.63L165.1 136.08L165.4 135.94L165.7 137.31L166 136.45L166.3 133.93L166.6 134.27L166.9 135.4L167.2 134.05L167.5 134.27L167.8 133.45L168.1 134.3L168.4 135.16L168.7 135.89L169 134.61L169.3 137.3L169.6 134.5L169.9 138.76L170.2 135.91L170.5 135.26L170.8 133.97L171.1 130.95L171.4 134.43L171.7 134.87L172 137.14L172.3 132.86L172.6 137.14L172.9 134.35L173.2 135.62L173.5 131.39L173.8 134.88L174.1 134.27L174.4 135.62L174.7 134.86L175 133.27L175.3 136L175.6 135.69L175.9 135.58L176.2 136.14L176.5 136.3L176.8 134.9L177.1 133.25L177.4 133.31L177.7 136.97L178 136.26L178.3 135.6L178.6 135.05L178.9 135.81L179.2 135.96L179.5 135.66L179.8 135.36L180.1 139.26L180.4 136.92L180.7 136.01L181 135.29L181.3 136.22L181.6 138.28L181.9 138.5L182.2 137.4L182.5 137.92L182.8 137.61L183.1 136.71L183.4 139.99L183.7 138.92L184 141.8L184.3 137.74L184.6 138.69L184.9 140.16L185.2 138.84L185.5 137.5L185.8 138.22L186.1 139.73L186.4 140.19L186.7 139.77L187 141.34L187.3 141.47L187.6 140.74L187.9 140.5L188.2 140.28L188.5 141.46L188.8 142.07L189.1 141.09L189.4 141.73L189.7 140.85L190 139.56L190.3 140.22L190.6 142.63L190.9 142.34L191.2 143.94L191.5 142.07L191.8 143.24L192.1 143.95L192.4 143.64L192.7 141.67L193 142.33L193.3 142.85L193.6 141.52L193.9 143.52L194.2 144.34L194.5 142.49L194.8 145.79L195.1 142.95L195.4 143.16L195.7 143.21L196 142.69L196.3 144.24L196.6 143.81L196.9 146.03L197.2 144.74L197.5 144.73L197.8 143.81L198.1 142.33L198.4 144.12L198.7 143.19L199 145.6L199.3 144.38L199.6 146.65L199.9 145.5L200.2 145.68L200.5 144.95L200.8 144.97L201.1 145.6L201.4 146.01L201.7 143.93L202 145.55L202.3 148.36L202.6 144.89L202.9 144.72L203.2 144.2L203.5 143.26L203.8 146.74L204.1 145.32L204.4 145.68L204.7 147.73L205 148.65L205.3 144.28L205.6 146.85L205.9 146.34L206.2 146.1L206.5 146.25L206.8 145.65L207.1 147.8L207.4 146.58L207.7 146.28L208 147.5L208.3 147.09L208.6 146.57L208.9 146.44L209.2 148.35L209.5 146.77L209.8 146.04L210.1 145.08L210.4 145.8L210.7 144.92L211 146.47L211.3 146.7L211.6 143.74L211.9 146.47L212.2 147.32L212.5 146.73L212.8 145.31L213.1 148.23L213.4 145.71L213.7 145.05L214 145.27L214.3 146.69L214.6 148.01L214.9 148.28L215.2 147.06L215.5 145.27L215.8 145.99L216.1 145.7L216.4 146.66L216.7 144.62L217 147.09L217.3 147.81L217.6 146.81L217.9 147.63L218.2 145.84L218.5 145.19L218.8 146.28L219.1 148.65L219.4 148.51L219.7 146.61L220 148.8L220.3 146.84L220.6 149.26L220.9 147.95L221.2 146.77L221.5 148.42L221.8 146.42L222.1 146.24L222.4 145.6L222.7 147.86L223 147.49L223.3 147.49L223.6 147.09L223.9 149.52L224.2 147.14L224.5 146.78L224.8 149.38L225.1 149.64L225.4 148.26L225.7 145.59L226 147.11L226.3 148.72L226.6 147.98L226.9 150.01L227.2 146.24L227.5 148.94L227.8 147.27L228.1 149.84L228.4 148.06L228.7 149.53L229 147.38L229.3 146.43L229.6 146.85L229.9 147.54L230.2 147.03L230.5 149.96L230.8 150.17L231.1 148.82L231.4 147.15L231.7 148.38L232 147.67L232.3 150.49L232.6 149.04L232.9 149.3L233.2 148.17L233.5 146.11L233.8 147.75L234.1 147.33L234.4 149.29L234.7 148.96L235 147.82L235.3 148.38L235.6 150.95L235.9 147.69L236.2 147.77L236.5 148.69L236.8 148.1L237.1 148.47L237.4 149.75L237.7 151.33L238 146.79L238.3 149.1L238.6 149.2L238.9 149.06L239.2 148.95L239.5 148.77L239.8 150.55L240.1 148.66L240.4 149.12L240.7 149.32L241 149.48L241.3 149.15L241.6 150.7L241.9 149.42L242.2 149.69L242.5 149.43L242.8 148.22L243.1 148.48L243.4 148.23L243.7 149.88L244 148.74L244.3 148.33L244.6 150.06L244.9 150.47L245.2 147.54L245.5 152.06L245.8 149.95L246.1 149.81L246.4 151.38L246.7 150.12L247 149.29L247.3 152.97L247.6 148.76L247.9 150.07L248.2 151.34L248.5 148.89L248.8 150.19L249.1 150.87L249.4 153.53L249.7 149.29L250 150.42L250.3 151.38L250.6 150.67L250.9 149.04L251.2 151.17L251.5 150.82L251.8 151.29L252.1 152.22L252.4 152.1L252.7 151.34L253 151.25L253.3 149.44L253.6 150.73L253.9 151.21L254.2 150.43L254.5 151.11L254.8 149.94L255.1 153.03L255.4 153.86L255.7 150.58L256 151.63L256.3 150.83L256.6 152.8L256.9 151.75L257.2 151.31L257.5 150.94L257.8 151.42L258.1 149.98L258.4 152.18L258.7 150.4L259 152.05L259.3 151.54L259.6 152.82L259.9 151.4L260.2 152.77L260.5 150.27L260.8 152.28L261.1 151.22L261.4 151.78L261.7 151.64L262 152.79L262.3 148.97L262.6 152.03L262.9 149.69L263.2 153.22L263.5 149.11L263.8 150.39L264.1 149.54L264.4 153.87L264.7 150.08L265 151.92L265.3 151.1L265.6 149.47L265.9 151.39L266.2 152.71L266.5 151.63L266.8 153.11L267.1 151.44L267.4 151.94L267.7 151.45L268 152.41L268.3 154.45L268.6 152.47L268.9 152.27L269.2 151.24L269.5 151.08L269.8 153.98L270.1 150.65L270.4 150.93L270.7 152.01L271 151.6L271.3 154.71L271.6 149.11L271.9 152.68L272.2 153.15L272.5 150.79L272.8 151.42L273.1 152.84L273.4 154.42L273.7 151.12L274 150.28L274.3 153.62L274.6 154.36L274.9 151.96L275.2 149.53L275.5 154.32L275.8 152.19L276.1 153.93L276.4 152.43L276.7 152.02L277 151.94L277.3 154.46L277.6 154.43L277.9 149.8L278.2 151.38L278.5 154.93L278.8 152.16L279.1 150.89L279.4 152.68L279.7 152.56L280 152.59L280.3 152.11L280.6 152.35L280.9 152.18L281.2 153.22L281.5 151.75L281.8 152.45L282.1 152.66L282.4 154.56L282.7 153.37L283 152.75L283.3 153.61L283.6 153.46L283.9 154.36L284.2 153.63L284.5 155.32L284.8 154.75L285.1 152.97L285.4 152.5L285.7 154.2L286 153.74L286.3 152.96L286.6 151.18L286.9 150.73L287.2 153.58L287.5 154.15L287.8 154.21L288.1 151.5L288.4 154.54L288.7 152.51L289 153.73L289.3 153.78L289.6 152.21L289.9 152.49L290.2 150.58L290.5 152.1L290.8 150.96L291.1 153.88L291.4 153.41L291.7 154.53L292 153.82L292.3 152.54L292.6 153.82L292.9 152.88L293.2 154.19L293.5 153.82L293.8 152.13L294.1 153.43L294.4 153.51L294.7 153.05L295 154.62L295.3 155.7L295.6 153L295.9 153.04L296.2 150.58L296.5 153.35L296.8 152.96L297.1 150.72L297.4 153.92L297.7 154.32L298 152.61L298.3 153.09L298.6 152.33L298.9 154.59L299.2 151.63L299.5 153.21L299.8 156.16L300.1 153.7L300.4 154.26L300.7 153.47L301 152.14L301.3 153.63L301.6 154.22L301.9 152.37L302.2 154.15L302.5 155.33L302.8 155.11L303.1 151.68L303.4 152.47L303.7 151.65L304 155.15L304.3 154.56L304.6 154.69L304.9 152.64L305.2 152.27L305.5 153.9L305.8 153.94L306.1 152.7L306.4 154L306.7 154.66L307 154.13L307.3 152.49L307.6 151.1L307.9 153.51L308.2 154.07L308.5 153.52L308.8 153.31L309.1 152.97L309.4 154.8L309.7 153.81L310 154.04L310.3 152.62L310.6 153.08L310.9 154.1L311.2 152.59L311.5 152.26L311.8 153.47L312.1 155.46L312.4 154.15L312.7 155.8L313 153.73L313.3 153.5L313.6 152.09L313.9 153.15L314.2 155.76L314.5 154.32L314.8 154.85L315.1 154.81L315.4 153.88L315.7 153.62L316 154.04L316.3 154.75L316.6 154.47L316.9 154.51L317.2 154.06L317.5 152.86L317.8 153.51L318.1 152.62L318.4 155.14L318.7 151.1L319 153.54L319.3 156.92L319.6 153.37L319.9 152.33L320.2 153.77L320.5 155.46L320.8 153.57L321.1 154.56L321.4 153.89L321.7 153.26L322 157.83L322.3 153.82L322.6 153.02L322.9 153.07L323.2 154.19L323.5 154.21L323.8 154.67L324.1 153.84L324.4 151.78L324.7 154.33L325 153.22" fill="none" stroke="#e2291f" stroke-width="1.5" stroke-linejoin="round" clip-path="url(#ca)"/><path d="M398.9 179.05L399.7 175.7L400.5 178.04L401.3 177.51L402.1 179.27L402.9 175.34L403.7 179.31L404.5 179.42L405.3 175.97L406.1 177.23L406.9 176.53L407.7 181.24L408.5 171.91L409.3 177.76L410.1 174.17L410.9 177.46L411.7 180.89L412.5 176.9L413.3 178.98L414.1 176.33L414.9 183.87L415.7 181.12L416.5 181.73L417.3 175.14L418.1 175.79L418.9 181.71L419.7 178.31L420.5 178.18L421.3 179.82L422.1 175.57L422.9 181.08L423.7 179.08L424.5 180.35L425.3 177.27L426.1 180.48L426.9 177.2L427.7 181.68L428.5 182.15L429.3 181.56L430.1 180.49L430.9 180.81L431.7 171.79L432.5 181.35L433.3 178.36L434.1 179.36L434.9 178.33L435.7 175.34L436.5 177.65L437.3 180.88L438.1 182.93L438.9 177.42L439.7 176.66L440.5 183.02L441.3 176.72L442.1 184.7L442.9 179.22L443.7 176.66L444.5 181.66L445.3 183.51L446.1 174.99L446.9 182.99L447.7 177.93L448.5 182.61L449.3 177.47L450.1 174.13L450.9 179.64L451.7 180.69L452.5 183.75L453.3 182.64L454.1 179.78L454.9 177.18L455.7 176.35L456.5 176.9L457.3 175.41L458.1 176.87L458.9 170.71L459.7 178.01L460.5 177.36L461.3 184.22L462.1 179.13L462.9 175.53L463.7 178.06L464.5 172.92L465.3 174.28L466.1 170.54L466.9 179.15L467.7 176.58L468.5 171.5L469.3 174.2L470.1 176.61L470.9 175.05L471.7 174.4L472.5 170.71L473.3 170.94L474.1 172.56L474.9 174.39L475.7 169.23L476.5 167.98L477.3 173.63L478.1 167.56L478.9 172.54L479.7 169.88L480.5 171.24L481.3 173.28L482.1 170.16L482.9 170.12L483.7 165.28L484.5 165.64L485.3 169.04L486.1 171.26L486.9 170.75L487.7 173.17L488.5 167.74L489.3 167.47L490.1 169.7L490.9 167.11L491.7 167L492.5 164.48L493.3 170.14L494.1 164.78L494.9 169.82L495.7 165.91L496.5 174.25L497.3 170.03L498.1 176.28L498.9 170.6L499.7 174.51L500.5 179.63L501.3 174.98L502.1 178.01L502.9 177.22L503.7 172.98L504.5 180.75L505.3 181.78L506.1 178.28L506.9 183.42L507.7 180.25L508.5 180.13L509.3 183.19L510.1 181.57L510.9 189.82L511.7 179.63L512.5 186L513.3 186.83L514.1 178.96L514.9 179.74L515.7 186.04L516.5 183.3L517.3 185.71L518.1 187.81L518.9 183.8L519.7 181.99L520.5 177.54L521.3 185.5L522.1 182.47L522.9 185.84L523.7 185.62L524.5 181.24L525.3 189.59L526.1 187.8L526.9 187.08L527.7 181.5L528.5 183.5L529.3 183.01L530.1 183.21L530.9 181.07L531.7 185.02L532.5 184.17L533.3 184.23L534.1 181.58L534.9 186.15L535.7 182.9L536.5 174.73L537.3 180.12L538.1 181.41L538.9 183.87L539.7 180.12L540.5 179.9L541.3 178.38L542.1 181.51L542.9 177.92L543.7 176.77L544.5 175.58L545.3 178.2L546.1 174.34L546.9 170.33L547.7 175.65L548.5 171.26L549.3 173.39L550.1 172.76L550.9 174.35L551.7 173.29L552.5 168.3L553.3 168.8L554.1 165.17L554.9 172.6L555.7 168.69L556.5 170.69L557.3 165.37L558.1 160.1L558.9 169.65L559.7 165.96L560.5 166.44L561.3 166.77L562.1 169.02L562.9 169.46L563.7 164.54L564.5 172.6L565.3 169.08L566.1 170.31L566.9 177.58L567.7 176.92L568.5 175.1L569.3 172.49L570.1 179.25L570.9 181.26L571.7 180.33L572.5 177.92L573.3 179.85L574.1 179.25L574.9 183.8L575.7 185.93L576.5 186.88L577.3 182.4L578.1 185.13L578.9 185.97L579.7 182.98L580.5 183.77L581.3 189.68L582.1 184.26L582.9 185.85L583.7 182.08L584.5 183.2L585.3 178.38L586.1 182.94L586.9 186.26L587.7 188.77L588.5 186.4L589.3 185.11L590.1 183.48L590.9 181.79L591.7 183.03L592.5 185.15L593.3 181.38L594.1 186.01L594.9 180.8L595.7 178.62L596.5 180.65L597.3 178.83L598.1 179.56L598.9 186.25L599.7 182.58L600.5 183.63L601.3 186.08L602.1 186.26L602.9 181.41L603.7 186.26L604.5 183.62L605.3 182.5L606.1 183.58L606.9 178.41L607.7 180L608.5 181.68L609.3 183.45L610.1 180.62L610.9 181.09L611.7 183.86L612.5 184.84L613.3 182.89L614.1 184.02L614.9 179.28L615.7 179.32L616.5 180.77L617.3 178.87L618.1 178.08L618.9 183.68L619.7 178.45L620.5 176.17L621.3 179.87L622.1 183.31L622.9 178.36L623.7 181.28L624.5 176.59L625.3 176.27L626.1 175.57L626.9 176.88L627.7 182.06L628.5 173.81L629.3 181.18L630.1 173.87L630.9 175.79L631.7 178.51L632.5 177.79L633.3 176.69L634.1 171.31L634.9 176.59L635.7 172.69L636.5 182.24L637.3 174.58L638.1 175.52L638.9 171.78L639.7 173.45L640.5 171.13L641.3 177.15L642.1 173.68L642.9 175.8L643.7 172.34L644.5 172.75L645.3 177.5L646.1 171.32L646.9 169.01L647.7 174.9L648.5 170.65L649.3 172.47L650.1 176.05L650.9 171.3L651.7 175.82L652.5 171.54L653.3 177.34L654.1 176.83L654.9 171.92L655.7 172.55L656.5 170.82L657.3 173.56L658.1 176.07L658.9 169.01L659.7 175.34L660.5 169.25L661.3 170.46L662.1 167.92L662.9 178.4L663.7 172.84L664.5 173.32L665.3 170.81L666.1 175.5L666.9 166.93L667.7 172.67" fill="none" stroke="#111111" stroke-width="1.5" stroke-linejoin="round" clip-path="url(#cb)"/><path d="M398.9 156L399.7 149.82L400.5 150.82L401.3 152.47L402.1 148.99L402.9 151.1L403.7 153.46L404.5 151.74L405.3 152.29L406.1 150.73L406.9 152.55L407.7 152.21L408.5 155.89L409.3 154.49L410.1 152.54L410.9 147.63L411.7 155.6L412.5 156.07L413.3 152.43L414.1 150.24L414.9 152.73L415.7 158.14L416.5 153.8L417.3 155.69L418.1 157.74L418.9 160.53L419.7 157.88L420.5 157.98L421.3 157.18L422.1 162.67L422.9 161.56L423.7 159.01L424.5 156.11L425.3 157.77L426.1 161.25L426.9 158.3L427.7 162.35L428.5 161.25L429.3 161.27L430.1 162.31L430.9 162.1L431.7 158.99L432.5 160.38L433.3 166.86L434.1 158.4L434.9 160.16L435.7 163.84L436.5 160.87L437.3 159.27L438.1 157.99L438.9 162.4L439.7 163.51L440.5 164.36L441.3 161.07L442.1 163.39L442.9 158.33L443.7 161.15L444.5 159.04L445.3 161L446.1 162.3L446.9 162.96L447.7 157.92L448.5 163.23L449.3 158.93L450.1 157.48L450.9 159.4L451.7 156.15L452.5 159.52L453.3 160.03L454.1 158.66L454.9 160.22L455.7 157.96L456.5 158.48L457.3 154.71L458.1 157.9L458.9 155.34L459.7 155.88L460.5 156.31L461.3 156.57L462.1 151.72L462.9 151.47L463.7 154.03L464.5 155.42L465.3 154.65L466.1 155.41L466.9 155.86L467.7 153.36L468.5 151.5L469.3 148.41L470.1 147.92L470.9 148.37L471.7 149.43L472.5 148.65L473.3 147.49L474.1 146.53L474.9 147.88L475.7 146.35L476.5 146.07L477.3 145.62L478.1 143.11L478.9 141.49L479.7 144.7L480.5 144.08L481.3 142.12L482.1 141.13L482.9 147.06L483.7 139.35L484.5 140.48L485.3 141.74L486.1 138.59L486.9 141.98L487.7 146.34L488.5 144.53L489.3 144.01L490.1 144.08L490.9 143.09L491.7 145.29L492.5 142.79L493.3 142.35L494.1 143.86L494.9 146.1L495.7 145.14L496.5 146.79L497.3 141.43L498.1 150.39L498.9 154.34L499.7 152.93L500.5 149.88L501.3 149.49L502.1 153.05L502.9 150.85L503.7 155.76L504.5 153.51L505.3 157.79L506.1 159.45L506.9 152L507.7 158.25L508.5 156.54L509.3 155.47L510.1 157.97L510.9 159.5L511.7 163.03L512.5 157.38L513.3 163.98L514.1 166.68L514.9 163.66L515.7 163.91L516.5 162.92L517.3 160.43L518.1 164.75L518.9 164.51L519.7 165.35L520.5 169.72L521.3 165.24L522.1 164.42L522.9 167.02L523.7 159.91L524.5 160.24L525.3 161.92L526.1 161.07L526.9 164.14L527.7 161.54L528.5 166.29L529.3 165.55L530.1 163.52L530.9 160.49L531.7 162.63L532.5 162.81L533.3 158L534.1 161.09L534.9 161.64L535.7 160.14L536.5 163.05L537.3 161.84L538.1 156.57L538.9 158.45L539.7 155.73L540.5 158.68L541.3 154.73L542.1 158.52L542.9 156.66L543.7 157.41L544.5 154.03L545.3 150.14L546.1 157.1L546.9 151.66L547.7 154.58L548.5 151.52L549.3 151.32L550.1 153.28L550.9 148.85L551.7 150.51L552.5 142.69L553.3 147.47L554.1 143.94L554.9 143.4L555.7 143L556.5 143.15L557.3 145.61L558.1 136.53L558.9 140.67L559.7 138.84L560.5 143.8L561.3 140.75L562.1 143.83L562.9 142.83L563.7 146.4L564.5 148.26L565.3 146.02L566.1 148.34L566.9 146.13L567.7 151.64L568.5 154.35L569.3 152.35L570.1 157.73L570.9 151.37L571.7 153.26L572.5 155.89L573.3 159.57L574.1 162.09L574.9 162.79L575.7 163.25L576.5 165.44L577.3 162.84L578.1 161.18L578.9 161.45L579.7 169.69L580.5 159.15L581.3 164.52L582.1 168.56L582.9 166.32L583.7 163.24L584.5 165.28L585.3 167.37L586.1 168.2L586.9 163.12L587.7 167.07L588.5 165.8L589.3 167.79L590.1 168.4L590.9 164.16L591.7 161.42L592.5 165.76L593.3 168.98L594.1 166.26L594.9 165.06L595.7 170.16L596.5 161.77L597.3 166.27L598.1 162.56L598.9 163.85L599.7 163.74L600.5 166.94L601.3 160.84L602.1 161.57L602.9 158.81L603.7 163.57L604.5 161.08L605.3 162.99L606.1 159.19L606.9 160.69L607.7 163.82L608.5 160.68L609.3 162.37L610.1 161.9L610.9 159.55L611.7 156.42L612.5 162.29L613.3 160.09L614.1 161.8L614.9 154.37L615.7 154.99L616.5 153.59L617.3 156.39L618.1 160.77L618.9 159.4L619.7 157.74L620.5 157.93L621.3 159.23L622.1 156.48L622.9 157.97L623.7 157.17L624.5 151.41L625.3 155.58L626.1 159.61L626.9 155.25L627.7 155.71L628.5 154.46L629.3 154.62L630.1 158.35L630.9 154.88L631.7 152.95L632.5 147.81L633.3 153.79L634.1 150.33L634.9 150.56L635.7 156.73L636.5 156.41L637.3 150L638.1 156.53L638.9 155.48L639.7 152.39L640.5 155.92L641.3 150.14L642.1 151.03L642.9 150.35L643.7 151.02L644.5 155.67L645.3 150.23L646.1 150.54L646.9 150.89L647.7 153.51L648.5 152.09L649.3 154.84L650.1 150.93L650.9 149.41L651.7 151.16L652.5 152.32L653.3 149.86L654.1 152.62L654.9 156.17L655.7 150.28L656.5 151.64L657.3 154.63L658.1 149.69L658.9 149.07L659.7 148.34L660.5 151.77L661.3 151.91L662.1 150.17L662.9 150.48L663.7 153.29L664.5 152.17L665.3 146.58L666.1 149.77L666.9 149.9L667.7 151.22" fill="none" stroke="#2a837e" stroke-width="1.5" stroke-linejoin="round" clip-path="url(#cb)"/><path d="M398.9 133.81L399.7 132.46L400.5 133.11L401.3 128.79L402.1 134.61L402.9 132.76L403.7 136.31L404.5 131.42L405.3 133.41L406.1 131.65L406.9 131.4L407.7 137.26L408.5 133.46L409.3 136.49L410.1 131.37L410.9 135.42L411.7 129.56L412.5 133.59L413.3 133.55L414.1 137.17L414.9 135.89L415.7 134.77L416.5 138.15L417.3 136.07L418.1 137.26L418.9 138.07L419.7 135.37L420.5 134.66L421.3 136.75L422.1 134.34L422.9 137.03L423.7 139.44L424.5 138.63L425.3 134.57L426.1 131.61L426.9 135.67L427.7 135.43L428.5 139.48L429.3 134.56L430.1 135.12L430.9 138.2L431.7 134.18L432.5 135.19L433.3 141.32L434.1 140.54L434.9 137.66L435.7 136.42L436.5 132.3L437.3 137.28L438.1 135.58L438.9 136.06L439.7 133.57L440.5 135.19L441.3 134.57L442.1 136.16L442.9 139.78L443.7 136.22L444.5 129.53L445.3 131.75L446.1 129.69L446.9 132.24L447.7 136.65L448.5 136.08L449.3 132.73L450.1 135.51L450.9 132.07L451.7 129.81L452.5 129.78L453.3 131.48L454.1 138.89L454.9 129.68L455.7 138.06L456.5 138.19L457.3 132.91L458.1 132.85L458.9 130.4L459.7 131.75L460.5 133.5L461.3 130.89L462.1 133.68L462.9 133.84L463.7 130.58L464.5 130.01L465.3 128.18L466.1 128.9L466.9 123.4L467.7 127.57L468.5 125.95L469.3 121.4L470.1 130.23L470.9 118.82L471.7 118.05L472.5 120.75L473.3 112.42L474.1 115.04L474.9 111.42L475.7 112.12L476.5 113.89L477.3 114.68L478.1 116.91L478.9 115.65L479.7 116.66L480.5 114.5L481.3 110.88L482.1 116.01L482.9 110.75L483.7 110.68L484.5 118.39L485.3 116.75L486.1 115.72L486.9 118.23L487.7 119.2L488.5 112.25L489.3 116.81L490.1 113.59L490.9 118.27L491.7 116.11L492.5 123.35L493.3 121.3L494.1 117.77L494.9 121.35L495.7 118.44L496.5 123.6L497.3 126.27L498.1 126.37L498.9 120.24L499.7 126.6L500.5 130.48L501.3 130.87L502.1 134.68L502.9 127.55L503.7 134.41L504.5 131.41L505.3 135.06L506.1 136.61L506.9 138.42L507.7 135.13L508.5 138.51L509.3 134.89L510.1 134.9L510.9 142.14L511.7 140.83L512.5 136.3L513.3 139.42L514.1 142.9L514.9 148.58L515.7 147.48L516.5 147.21L517.3 139.16L518.1 145.1L518.9 147.26L519.7 147.1L520.5 147.18L521.3 145.01L522.1 151.55L522.9 150.57L523.7 145.34L524.5 142.35L525.3 152.28L526.1 143.6L526.9 149.29L527.7 151.54L528.5 141.98L529.3 145.86L530.1 143.53L530.9 146.12L531.7 145.21L532.5 150.3L533.3 145.55L534.1 143.31L534.9 146.8L535.7 141.95L536.5 141.42L537.3 149.78L538.1 139.45L538.9 140.29L539.7 141.77L540.5 137.83L541.3 134L542.1 144.02L542.9 137.38L543.7 137.46L544.5 137.18L545.3 134.24L546.1 132.96L546.9 136.03L547.7 142.43L548.5 136L549.3 135.16L550.1 126.81L550.9 130.72L551.7 125.9L552.5 131.36L553.3 127.12L554.1 127.12L554.9 125.94L555.7 123.68L556.5 120.14L557.3 126.7L558.1 119.88L558.9 120.25L559.7 122.95L560.5 121.49L561.3 124.74L562.1 127.57L562.9 125.69L563.7 126.36L564.5 126.78L565.3 130.62L566.1 122.82L566.9 131.27L567.7 128.55L568.5 129.46L569.3 135.51L570.1 136.01L570.9 140.6L571.7 143.32L572.5 133.02L573.3 141.41L574.1 149.01L574.9 146.21L575.7 148.8L576.5 144.9L577.3 140.2L578.1 141.39L578.9 147.44L579.7 148.21L580.5 142.56L581.3 143.99L582.1 145.62L582.9 138.87L583.7 143.37L584.5 149.76L585.3 151.55L586.1 143.91L586.9 150.25L587.7 142.43L588.5 141.44L589.3 136.69L590.1 147.18L590.9 142.74L591.7 151.64L592.5 144.94L593.3 144.38L594.1 137.68L594.9 148.44L595.7 142.11L596.5 142.57L597.3 135.6L598.1 145.69L598.9 145.63L599.7 140.09L600.5 142.12L601.3 142.81L602.1 144.4L602.9 141.27L603.7 146.32L604.5 139.55L605.3 138.08L606.1 138.26L606.9 131.14L607.7 136.55L608.5 142.24L609.3 139.47L610.1 135.58L610.9 139.11L611.7 130.97L612.5 136.36L613.3 138.69L614.1 138.92L614.9 133.72L615.7 138.95L616.5 141.77L617.3 133.85L618.1 137.37L618.9 129.45L619.7 127.78L620.5 135.95L621.3 133.75L622.1 133.96L622.9 131.07L623.7 131.73L624.5 135.08L625.3 137.8L626.1 131.14L626.9 126.13L627.7 135.51L628.5 133.02L629.3 133.01L630.1 131.1L630.9 137.9L631.7 130.21L632.5 131.4L633.3 123.32L634.1 127.27L634.9 126.66L635.7 128.58L636.5 129.58L637.3 125.72L638.1 133.67L638.9 124.21L639.7 126.01L640.5 128.06L641.3 122.93L642.1 128.73L642.9 128.74L643.7 125.48L644.5 132.56L645.3 126.35L646.1 126.83L646.9 122.55L647.7 120.02L648.5 123.29L649.3 124.15L650.1 123.54L650.9 127.41L651.7 116.83L652.5 120.81L653.3 118.36L654.1 128.67L654.9 122.22L655.7 122.23L656.5 120.15L657.3 126.61L658.1 122.14L658.9 124.1L659.7 116.52L660.5 126.97L661.3 124.28L662.1 124.68L662.9 126.82L663.7 121.99L664.5 121.96L665.3 124.78L666.1 123.72L666.9 121.41L667.7 122.27" fill="none" stroke="#2c47ae" stroke-width="1.5" stroke-linejoin="round" clip-path="url(#cb)"/><path d="M398.9 98.83L399.7 101.74L400.5 102.91L401.3 102.04L402.1 106.27L402.9 101L403.7 104.27L404.5 108.72L405.3 105.85L406.1 104.8L406.9 111.4L407.7 111.11L408.5 109.18L409.3 113.83L410.1 111.52L410.9 111.8L411.7 114.75L412.5 114.92L413.3 114.53L414.1 116.54L414.9 116.03L415.7 118.57L416.5 119.01L417.3 120.95L418.1 119.3L418.9 118.22L419.7 118.72L420.5 121.12L421.3 124.83L422.1 124.07L422.9 121.86L423.7 125.18L424.5 121.81L425.3 126.11L426.1 123.91L426.9 126.23L427.7 126.15L428.5 124.69L429.3 125.94L430.1 123.56L430.9 125.49L431.7 127.68L432.5 133.21L433.3 127.15L434.1 126.07L434.9 124.07L435.7 127.69L436.5 122.56L437.3 123.79L438.1 125.52L438.9 122.28L439.7 126.8L440.5 125.55L441.3 122.13L442.1 121.77L442.9 120.01L443.7 119.47L444.5 122.39L445.3 122.29L446.1 121.37L446.9 120.76L447.7 118.79L448.5 119.95L449.3 116.13L450.1 118.24L450.9 120.29L451.7 119.39L452.5 115.51L453.3 115.07L454.1 117.46L454.9 117.49L455.7 110.84L456.5 112.06L457.3 112.54L458.1 113.6L458.9 109.11L459.7 110.93L460.5 108.24L461.3 111.95L462.1 107.18L462.9 104.82L463.7 103.07L464.5 104.16L465.3 102.04L466.1 97.34L466.9 98.11L467.7 93.67L468.5 93.09L469.3 90.48L470.1 88.81L470.9 88.31L471.7 86.1L472.5 87.16L473.3 86.03L474.1 82.62L474.9 79.58L475.7 81.62L476.5 75.1L477.3 73.93L478.1 77.5L478.9 76.29L479.7 75.95L480.5 72.93L481.3 70.21L482.1 70.83L482.9 72.16L483.7 69.3L484.5 69.18L485.3 67.74L486.1 68.01L486.9 71.52L487.7 70.75L488.5 67.84L489.3 68.26L490.1 69.7L490.9 72.38L491.7 70.03L492.5 72.61L493.3 69.97L494.1 72.72L494.9 77.08L495.7 79.45L496.5 77.79L497.3 80.82L498.1 85.74L498.9 85.14L499.7 86.23L500.5 89.38L501.3 89.94L502.1 92.68L502.9 93.15L503.7 91.71L504.5 93.59L505.3 94.81L506.1 93.6L506.9 95.41L507.7 100.02L508.5 96.49L509.3 102.26L510.1 102.09L510.9 102.45L511.7 104.84L512.5 105.93L513.3 108.63L514.1 107.37L514.9 109.46L515.7 111.16L516.5 116.52L517.3 115.98L518.1 113.2L518.9 114.31L519.7 113.59L520.5 114.81L521.3 115.06L522.1 118.69L522.9 111.11L523.7 116.03L524.5 114.64L525.3 112.19L526.1 112.78L526.9 111.76L527.7 112.4L528.5 113.79L529.3 108.88L530.1 113.64L530.9 110.25L531.7 113.31L532.5 111.01L533.3 112.18L534.1 110.69L534.9 111.36L535.7 109.28L536.5 107.5L537.3 110.05L538.1 109.96L538.9 112.28L539.7 104.66L540.5 107.66L541.3 109.6L542.1 104.94L542.9 105.66L543.7 108.18L544.5 104.86L545.3 98.57L546.1 100.72L546.9 98.43L547.7 95.74L548.5 93.05L549.3 90.87L550.1 87.06L550.9 86.08L551.7 86.84L552.5 84.37L553.3 86.11L554.1 80.85L554.9 75.8L555.7 77.97L556.5 77.22L557.3 75.1L558.1 69.71L558.5 65.47L558.9 72.13L559.7 72.45L560.5 76.4L561.3 75.63L562.1 74.97L562.9 80.97L563.7 75.87L564.5 81.16L565.3 85.74L566.1 86.61L566.9 91.03L567.7 92.04L568.5 94.03L569.3 101.49L570.1 100.05L570.9 103.09L571.7 104.54L572.5 108.48L573.3 114.14L574.1 116.55L574.9 117.93L575.7 118.92L576.5 123.28L577.3 120.17L578.1 123.08L578.9 123.58L579.7 122.8L580.5 124.84L581.3 123.56L582.1 123.49L582.9 128.33L583.7 126.55L584.5 127.49L585.3 125.52L586.1 127.27L586.9 127.04L587.7 127.92L588.5 130.09L589.3 125.51L590.1 126.47L590.9 126L591.7 119.84L592.5 123.72L593.3 126.33L594.1 127.49L594.9 125.36L595.7 128.48L596.5 128.78L597.3 125.74L598.1 129.05L598.9 129.57L599.7 127.09L600.5 124.25L601.3 128.36L602.1 125.1L602.9 124.37L603.7 124.93L604.5 123.45L605.3 126.1L606.1 125.34L606.9 125.91L607.7 124.54L608.5 121.85L609.3 122.78L610.1 124.43L610.9 121.91L611.7 127.69L612.5 121.8L613.3 120.97L614.1 123.9L614.9 122.98L615.7 121.38L616.5 120.82L617.3 121.81L618.1 122.36L618.9 122.04L619.7 119.93L620.5 121.07L621.3 121.63L622.1 121.3L622.9 114.18L623.7 117.96L624.5 117.98L625.3 118.78L626.1 119.34L626.9 120.5L627.7 119.78L628.5 118.27L629.3 118.37L630.1 121.32L630.9 116.88L631.7 118.37L632.5 120.47L633.3 118.11L634.1 113.64L634.9 117.83L635.7 116.3L636.5 116.63L637.3 118.57L638.1 117.37L638.9 115.89L639.7 117.81L640.5 116.84L641.3 116.09L642.1 116.29L642.9 116.05L643.7 114.83L644.5 114.46L645.3 115.18L646.1 113.27L646.9 112.57L647.7 117.03L648.5 114.11L649.3 114.35L650.1 114L650.9 114.14L651.7 114L652.5 113.93L653.3 112.22L654.1 115.2L654.9 112.14L655.7 115.11L656.5 109.65L657.3 111.05L658.1 114.61L658.9 112.42L659.7 111.34L660.5 113.09L661.3 110.4L662.1 112.28L662.9 108.02L663.7 111.06L664.5 110.58L665.3 112.59L666.1 113.06L666.9 109.82L667.7 114.12" fill="none" stroke="#e2291f" stroke-width="1.45" stroke-linejoin="round" clip-path="url(#cb)"/><rect x="54.8" y="0.3" width="270.5" height="200.2" fill="none" stroke="#1c1c1c" stroke-width="1.25"/><line x1="54.68" y1="200.5" x2="54.68" y2="203.1" stroke="#1c1c1c" stroke-width="1.2"/><line x1="54.68" y1="0.3" x2="54.68" y2="-2.3" stroke="#1c1c1c" stroke-width="1.2"/><line x1="75.5" y1="200.5" x2="75.5" y2="205.7" stroke="#1c1c1c" stroke-width="1.2"/><line x1="75.5" y1="0.3" x2="75.5" y2="-4.9" stroke="#1c1c1c" stroke-width="1.2"/><text x="75.5" y="220" font-size="14" text-anchor="middle" font-weight="normal" >20</text><line x1="96.32" y1="200.5" x2="96.32" y2="203.1" stroke="#1c1c1c" stroke-width="1.2"/><line x1="96.32" y1="0.3" x2="96.32" y2="-2.3" stroke="#1c1c1c" stroke-width="1.2"/><line x1="117.13" y1="200.5" x2="117.13" y2="205.7" stroke="#1c1c1c" stroke-width="1.2"/><line x1="117.13" y1="0.3" x2="117.13" y2="-4.9" stroke="#1c1c1c" stroke-width="1.2"/><text x="117.13" y="220" font-size="14" text-anchor="middle" font-weight="normal" >30</text><line x1="137.95" y1="200.5" x2="137.95" y2="203.1" stroke="#1c1c1c" stroke-width="1.2"/><line x1="137.95" y1="0.3" x2="137.95" y2="-2.3" stroke="#1c1c1c" stroke-width="1.2"/><line x1="158.77" y1="200.5" x2="158.77" y2="205.7" stroke="#1c1c1c" stroke-width="1.2"/><line x1="158.77" y1="0.3" x2="158.77" y2="-4.9" stroke="#1c1c1c" stroke-width="1.2"/><text x="158.77" y="220" font-size="14" text-anchor="middle" font-weight="normal" >40</text><line x1="179.58" y1="200.5" x2="179.58" y2="203.1" stroke="#1c1c1c" stroke-width="1.2"/><line x1="179.58" y1="0.3" x2="179.58" y2="-2.3" stroke="#1c1c1c" stroke-width="1.2"/><line x1="200.4" y1="200.5" x2="200.4" y2="205.7" stroke="#1c1c1c" stroke-width="1.2"/><line x1="200.4" y1="0.3" x2="200.4" y2="-4.9" stroke="#1c1c1c" stroke-width="1.2"/><text x="200.4" y="220" font-size="14" text-anchor="middle" font-weight="normal" >50</text><line x1="221.22" y1="200.5" x2="221.22" y2="203.1" stroke="#1c1c1c" stroke-width="1.2"/><line x1="221.22" y1="0.3" x2="221.22" y2="-2.3" stroke="#1c1c1c" stroke-width="1.2"/><line x1="242.03" y1="200.5" x2="242.03" y2="205.7" stroke="#1c1c1c" stroke-width="1.2"/><line x1="242.03" y1="0.3" x2="242.03" y2="-4.9" stroke="#1c1c1c" stroke-width="1.2"/><text x="242.03" y="220" font-size="14" text-anchor="middle" font-weight="normal" >60</text><line x1="262.85" y1="200.5" x2="262.85" y2="203.1" stroke="#1c1c1c" stroke-width="1.2"/><line x1="262.85" y1="0.3" x2="262.85" y2="-2.3" stroke="#1c1c1c" stroke-width="1.2"/><line x1="283.67" y1="200.5" x2="283.67" y2="205.7" stroke="#1c1c1c" stroke-width="1.2"/><line x1="283.67" y1="0.3" x2="283.67" y2="-4.9" stroke="#1c1c1c" stroke-width="1.2"/><text x="283.67" y="220" font-size="14" text-anchor="middle" font-weight="normal" >70</text><line x1="304.48" y1="200.5" x2="304.48" y2="203.1" stroke="#1c1c1c" stroke-width="1.2"/><line x1="304.48" y1="0.3" x2="304.48" y2="-2.3" stroke="#1c1c1c" stroke-width="1.2"/><line x1="325.3" y1="200.5" x2="325.3" y2="205.7" stroke="#1c1c1c" stroke-width="1.2"/><line x1="325.3" y1="0.3" x2="325.3" y2="-4.9" stroke="#1c1c1c" stroke-width="1.2"/><text x="325.3" y="220" font-size="14" text-anchor="middle" font-weight="normal" >80</text><text x="190.8" y="236.6" font-size="14" text-anchor="middle" font-weight="normal" >2θ (°)</text><text x="0" y="0" font-size="13.75" text-anchor="middle" font-weight="normal" transform="translate(46.7,100.4) rotate(-90)">Intensity (a.u.)</text><text x="59.8" y="15.2" font-size="13.5" text-anchor="start" font-weight="bold" >(a)</text><line x1="209.6" y1="12.5" x2="233.8" y2="12.5" stroke="#111111" stroke-width="1.1"/><text x="236.8" y="16.4" font-size="12" text-anchor="start" font-weight="bold" >Fe-N-C</text><line x1="209.6" y1="27.9" x2="233.8" y2="27.9" stroke="#55a39c" stroke-width="1.1"/><text x="236.8" y="31.8" font-size="12" text-anchor="start" font-weight="bold" >Fe-N-C/control</text><line x1="209.6" y1="43.3" x2="233.8" y2="43.3" stroke="#3d5cc0" stroke-width="1.1"/><text x="236.8" y="47.2" font-size="12" text-anchor="start" font-weight="bold" >Fe-N-C/N</text><line x1="209.6" y1="58.7" x2="233.8" y2="58.7" stroke="#ec5548" stroke-width="1.1"/><text x="236.8" y="62.6" font-size="12" text-anchor="start" font-weight="bold" >Fe-N-C/FeN</text><rect x="398.4" y="0.3" width="270.1" height="200.2" fill="none" stroke="#1c1c1c" stroke-width="1.25"/><line x1="398.4" y1="200.5" x2="398.4" y2="204.5" stroke="#1c1c1c" stroke-width="1.2"/><line x1="398.4" y1="0.3" x2="398.4" y2="-3.7" stroke="#1c1c1c" stroke-width="1.2"/><text x="398.4" y="220" font-size="14" text-anchor="middle" font-weight="normal" >1000</text><line x1="425.41" y1="200.5" x2="425.41" y2="202.7" stroke="#1c1c1c" stroke-width="1.2"/><line x1="425.41" y1="0.3" x2="425.41" y2="-1.9" stroke="#1c1c1c" stroke-width="1.2"/><line x1="452.42" y1="200.5" x2="452.42" y2="204.5" stroke="#1c1c1c" stroke-width="1.2"/><line x1="452.42" y1="0.3" x2="452.42" y2="-3.7" stroke="#1c1c1c" stroke-width="1.2"/><text x="452.42" y="220" font-size="14" text-anchor="middle" font-weight="normal" >1200</text><line x1="479.43" y1="200.5" x2="479.43" y2="202.7" stroke="#1c1c1c" stroke-width="1.2"/><line x1="479.43" y1="0.3" x2="479.43" y2="-1.9" stroke="#1c1c1c" stroke-width="1.2"/><line x1="506.44" y1="200.5" x2="506.44" y2="204.5" stroke="#1c1c1c" stroke-width="1.2"/><line x1="506.44" y1="0.3" x2="506.44" y2="-3.7" stroke="#1c1c1c" stroke-width="1.2"/><text x="506.44" y="220" font-size="14" text-anchor="middle" font-weight="normal" >1400</text><line x1="533.45" y1="200.5" x2="533.45" y2="202.7" stroke="#1c1c1c" stroke-width="1.2"/><line x1="533.45" y1="0.3" x2="533.45" y2="-1.9" stroke="#1c1c1c" stroke-width="1.2"/><line x1="560.46" y1="200.5" x2="560.46" y2="204.5" stroke="#1c1c1c" stroke-width="1.2"/><line x1="560.46" y1="0.3" x2="560.46" y2="-3.7" stroke="#1c1c1c" stroke-width="1.2"/><text x="560.46" y="220" font-size="14" text-anchor="middle" font-weight="normal" >1600</text><line x1="587.47" y1="200.5" x2="587.47" y2="202.7" stroke="#1c1c1c" stroke-width="1.2"/><line x1="587.47" y1="0.3" x2="587.47" y2="-1.9" stroke="#1c1c1c" stroke-width="1.2"/><line x1="614.48" y1="200.5" x2="614.48" y2="204.5" stroke="#1c1c1c" stroke-width="1.2"/><line x1="614.48" y1="0.3" x2="614.48" y2="-3.7" stroke="#1c1c1c" stroke-width="1.2"/><text x="614.48" y="220" font-size="14" text-anchor="middle" font-weight="normal" >1800</text><line x1="641.49" y1="200.5" x2="641.49" y2="202.7" stroke="#1c1c1c" stroke-width="1.2"/><line x1="641.49" y1="0.3" x2="641.49" y2="-1.9" stroke="#1c1c1c" stroke-width="1.2"/><line x1="668.5" y1="200.5" x2="668.5" y2="204.5" stroke="#1c1c1c" stroke-width="1.2"/><line x1="668.5" y1="0.3" x2="668.5" y2="-3.7" stroke="#1c1c1c" stroke-width="1.2"/><text x="668.5" y="220" font-size="14" text-anchor="middle" font-weight="normal" >2000</text><text x="533.6" y="236.6" font-size="13.75" text-anchor="middle" font-weight="normal" >Raman shift (cm<tspan dy="-3.8" font-size="10.5">−1</tspan><tspan dy="3.8">)</tspan></text><text x="0" y="0" font-size="13.75" text-anchor="middle" font-weight="normal" transform="translate(390.6,100.6) rotate(-90)">Intensity (a.u.)</text><text x="403.6" y="15.2" font-size="13.5" text-anchor="start" font-weight="bold" >(b)</text><line x1="554.8" y1="13.1" x2="576.9" y2="13.1" stroke="#6d6d6d" stroke-width="1.9"/><text x="578.8" y="16.9" font-size="12" text-anchor="start" font-weight="bold" >Fe-N-C</text><line x1="554.8" y1="27.73" x2="576.9" y2="27.73" stroke="#3f8f89" stroke-width="1.1"/><text x="578.8" y="31.53" font-size="12" text-anchor="start" font-weight="bold" >Fe-N-C/control</text><line x1="554.8" y1="42.36" x2="576.9" y2="42.36" stroke="#3a57c0" stroke-width="1.1"/><text x="578.8" y="46.16" font-size="12" text-anchor="start" font-weight="bold" >Fe-N-C/N</text><line x1="554.8" y1="56.99" x2="576.9" y2="56.99" stroke="#ef7468" stroke-width="1.5"/><text x="578.8" y="60.79" font-size="12" text-anchor="start" font-weight="bold" >Fe-N-C/FeN</text><clipPath id="cc"><rect x="54.7" y="251.3" width="270.9" height="200.5"/></clipPath><g clip-path="url(#cc)"><path d="M56 451.8L56 440.9L57.1 435.4L64.4 433.7L71.7 432.3L78.3 431.35L85.3 430.56L92.1 429.9L98.7 429.19L105.3 428.5L119.9 427.14L133 426.05L146.2 425.11L160.1 424.1L174.2 422.7L187.3 421.8L200.4 420.6L214.5 419.2L227.6 418L241.3 416.6L255.6 415.1L273 413.6L286.3 409.9L292.8 407.4L299 403.3L304.5 387.2L313.7 327L319.1 321L310.2 322.3L303 324L296.3 325.6L289.7 328.5L285.6 335.1L270.6 399.3L259.7 415.09L246 416.53L232.9 417.87L219.7 419.09L205.7 420.47L191.7 421.77L178.5 422.68L164.5 424.07L150.5 425.09L137.4 426.02L123.5 427.17L108.9 428.54L95.8 429.93L81.2 431.5L67.3 433.89" fill="none" stroke="#111111" stroke-width="1.0" stroke-linejoin="round"/><circle cx="57.1" cy="435.4" r="2.7" fill="url(#gk)" stroke="#000" stroke-width="0.6"/><circle cx="64.4" cy="433.7" r="2.7" fill="url(#gk)" stroke="#000" stroke-width="0.6"/><circle cx="71.7" cy="432.3" r="2.7" fill="url(#gk)" stroke="#000" stroke-width="0.6"/><circle cx="78.3" cy="431.35" r="2.7" fill="url(#gk)" stroke="#000" stroke-width="0.6"/><circle cx="85.3" cy="430.56" r="2.7" fill="url(#gk)" stroke="#000" stroke-width="0.6"/><circle cx="92.1" cy="429.9" r="2.7" fill="url(#gk)" stroke="#000" stroke-width="0.6"/><circle cx="98.7" cy="429.19" r="2.7" fill="url(#gk)" stroke="#000" stroke-width="0.6"/><circle cx="105.3" cy="428.5" r="2.7" fill="url(#gk)" stroke="#000" stroke-width="0.6"/><circle cx="119.9" cy="427.14" r="2.7" fill="url(#gk)" stroke="#000" stroke-width="0.6"/><circle cx="133" cy="426.05" r="2.7" fill="url(#gk)" stroke="#000" stroke-width="0.6"/><circle cx="146.2" cy="425.11" r="2.7" fill="url(#gk)" stroke="#000" stroke-width="0.6"/><circle cx="160.1" cy="424.1" r="2.7" fill="url(#gk)" stroke="#000" stroke-width="0.6"/><circle cx="174.2" cy="422.7" r="2.7" fill="url(#gk)" stroke="#000" stroke-width="0.6"/><circle cx="187.3" cy="421.8" r="2.7" fill="url(#gk)" stroke="#000" stroke-width="0.6"/><circle cx="200.4" cy="420.6" r="2.7" fill="url(#gk)" stroke="#000" stroke-width="0.6"/><circle cx="214.5" cy="419.2" r="2.7" fill="url(#gk)" stroke="#000" stroke-width="0.6"/><circle cx="227.6" cy="418" r="2.7" fill="url(#gk)" stroke="#000" stroke-width="0.6"/><circle cx="241.3" cy="416.6" r="2.7" fill="url(#gk)" stroke="#000" stroke-width="0.6"/><circle cx="255.6" cy="415.1" r="2.7" fill="url(#gk)" stroke="#000" stroke-width="0.6"/><circle cx="273" cy="413.6" r="2.7" fill="url(#gk)" stroke="#000" stroke-width="0.6"/><circle cx="286.3" cy="409.9" r="2.7" fill="url(#gk)" stroke="#000" stroke-width="0.6"/><circle cx="292.8" cy="407.4" r="2.7" fill="url(#gk)" stroke="#000" stroke-width="0.6"/><circle cx="299" cy="403.3" r="2.7" fill="url(#gk)" stroke="#000" stroke-width="0.6"/><circle cx="304.5" cy="387.2" r="2.7" fill="url(#gk)" stroke="#000" stroke-width="0.6"/><circle cx="313.7" cy="327" r="2.7" fill="url(#gk)" stroke="#000" stroke-width="0.6"/><circle cx="319.1" cy="321" r="2.7" fill="url(#gk)" stroke="#000" stroke-width="0.6"/><circle cx="310.2" cy="322.3" r="2.7" fill="url(#gk)" stroke="#000" stroke-width="0.6"/><circle cx="303" cy="324" r="2.7" fill="url(#gk)" stroke="#000" stroke-width="0.6"/><circle cx="296.3" cy="325.6" r="2.7" fill="url(#gk)" stroke="#000" stroke-width="0.6"/><circle cx="289.7" cy="328.5" r="2.7" fill="url(#gk)" stroke="#000" stroke-width="0.6"/><circle cx="285.6" cy="335.1" r="2.7" fill="url(#gk)" stroke="#000" stroke-width="0.6"/><circle cx="270.6" cy="399.3" r="2.7" fill="url(#gk)" stroke="#000" stroke-width="0.6"/><circle cx="259.7" cy="415.09" r="2.7" fill="url(#gk)" stroke="#000" stroke-width="0.6"/><circle cx="246" cy="416.53" r="2.7" fill="url(#gk)" stroke="#000" stroke-width="0.6"/><circle cx="232.9" cy="417.87" r="2.7" fill="url(#gk)" stroke="#000" stroke-width="0.6"/><circle cx="219.7" cy="419.09" r="2.7" fill="url(#gk)" stroke="#000" stroke-width="0.6"/><circle cx="205.7" cy="420.47" r="2.7" fill="url(#gk)" stroke="#000" stroke-width="0.6"/><circle cx="191.7" cy="421.77" r="2.7" fill="url(#gk)" stroke="#000" stroke-width="0.6"/><circle cx="178.5" cy="422.68" r="2.7" fill="url(#gk)" stroke="#000" stroke-width="0.6"/><circle cx="164.5" cy="424.07" r="2.7" fill="url(#gk)" stroke="#000" stroke-width="0.6"/><circle cx="150.5" cy="425.09" r="2.7" fill="url(#gk)" stroke="#000" stroke-width="0.6"/><circle cx="137.4" cy="426.02" r="2.7" fill="url(#gk)" stroke="#000" stroke-width="0.6"/><circle cx="123.5" cy="427.17" r="2.7" fill="url(#gk)" stroke="#000" stroke-width="0.6"/><circle cx="108.9" cy="428.54" r="2.7" fill="url(#gk)" stroke="#000" stroke-width="0.6"/><circle cx="95.8" cy="429.93" r="2.7" fill="url(#gk)" stroke="#000" stroke-width="0.6"/><circle cx="81.2" cy="431.5" r="2.7" fill="url(#gk)" stroke="#000" stroke-width="0.6"/><circle cx="67.3" cy="433.89" r="2.7" fill="url(#gk)" stroke="#000" stroke-width="0.6"/></g><g clip-path="url(#cc)"><path d="M56 451.8L56 439L57.1 427.8L64.4 425L71.7 424L78.3 423.1L85.3 422.15L92.1 421.2L98.7 420.1L105.3 419.39L119.9 417.29L133 416.19L146.2 414.49L160.1 413.2L174.2 411.8L187.3 409.7L200.4 407.9L214.5 406.1L227.6 404L241.3 402.1L255.6 399.67L273 396.3L286.3 392.7L292.8 389.23L299 383.8L303.3 373.5L313.2 275.4L318.5 267.1L310.2 270.9L303.1 273.9L296.1 276.2L290.1 280L284.5 304.1L272.4 388L259.7 399.65L246 401.99L232.9 403.81L219.7 405.92L205.7 407.73L191.7 409.64L178.5 411.76L164.5 413.16L150.5 414.45L137.4 416.15L123.5 417.35L108.9 419.43L95.8 421.25L81.2 423.25L67.3 425.2" fill="none" stroke="#2a837e" stroke-width="1.0" stroke-linejoin="round"/><circle cx="57.1" cy="427.8" r="2.7" fill="url(#gt)" stroke="#1d5f5b" stroke-width="0.6"/><circle cx="64.4" cy="425" r="2.7" fill="url(#gt)" stroke="#1d5f5b" stroke-width="0.6"/><circle cx="71.7" cy="424" r="2.7" fill="url(#gt)" stroke="#1d5f5b" stroke-width="0.6"/><circle cx="78.3" cy="423.1" r="2.7" fill="url(#gt)" stroke="#1d5f5b" stroke-width="0.6"/><circle cx="85.3" cy="422.15" r="2.7" fill="url(#gt)" stroke="#1d5f5b" stroke-width="0.6"/><circle cx="92.1" cy="421.2" r="2.7" fill="url(#gt)" stroke="#1d5f5b" stroke-width="0.6"/><circle cx="98.7" cy="420.1" r="2.7" fill="url(#gt)" stroke="#1d5f5b" stroke-width="0.6"/><circle cx="105.3" cy="419.39" r="2.7" fill="url(#gt)" stroke="#1d5f5b" stroke-width="0.6"/><circle cx="119.9" cy="417.29" r="2.7" fill="url(#gt)" stroke="#1d5f5b" stroke-width="0.6"/><circle cx="133" cy="416.19" r="2.7" fill="url(#gt)" stroke="#1d5f5b" stroke-width="0.6"/><circle cx="146.2" cy="414.49" r="2.7" fill="url(#gt)" stroke="#1d5f5b" stroke-width="0.6"/><circle cx="160.1" cy="413.2" r="2.7" fill="url(#gt)" stroke="#1d5f5b" stroke-width="0.6"/><circle cx="174.2" cy="411.8" r="2.7" fill="url(#gt)" stroke="#1d5f5b" stroke-width="0.6"/><circle cx="187.3" cy="409.7" r="2.7" fill="url(#gt)" stroke="#1d5f5b" stroke-width="0.6"/><circle cx="200.4" cy="407.9" r="2.7" fill="url(#gt)" stroke="#1d5f5b" stroke-width="0.6"/><circle cx="214.5" cy="406.1" r="2.7" fill="url(#gt)" stroke="#1d5f5b" stroke-width="0.6"/><circle cx="227.6" cy="404" r="2.7" fill="url(#gt)" stroke="#1d5f5b" stroke-width="0.6"/><circle cx="241.3" cy="402.1" r="2.7" fill="url(#gt)" stroke="#1d5f5b" stroke-width="0.6"/><circle cx="255.6" cy="399.67" r="2.7" fill="url(#gt)" stroke="#1d5f5b" stroke-width="0.6"/><circle cx="273" cy="396.3" r="2.7" fill="url(#gt)" stroke="#1d5f5b" stroke-width="0.6"/><circle cx="286.3" cy="392.7" r="2.7" fill="url(#gt)" stroke="#1d5f5b" stroke-width="0.6"/><circle cx="292.8" cy="389.23" r="2.7" fill="url(#gt)" stroke="#1d5f5b" stroke-width="0.6"/><circle cx="299" cy="383.8" r="2.7" fill="url(#gt)" stroke="#1d5f5b" stroke-width="0.6"/><circle cx="303.3" cy="373.5" r="2.7" fill="url(#gt)" stroke="#1d5f5b" stroke-width="0.6"/><circle cx="313.2" cy="275.4" r="2.7" fill="url(#gt)" stroke="#1d5f5b" stroke-width="0.6"/><circle cx="318.5" cy="267.1" r="2.7" fill="url(#gt)" stroke="#1d5f5b" stroke-width="0.6"/><circle cx="310.2" cy="270.9" r="2.7" fill="url(#gt)" stroke="#1d5f5b" stroke-width="0.6"/><circle cx="303.1" cy="273.9" r="2.7" fill="url(#gt)" stroke="#1d5f5b" stroke-width="0.6"/><circle cx="296.1" cy="276.2" r="2.7" fill="url(#gt)" stroke="#1d5f5b" stroke-width="0.6"/><circle cx="290.1" cy="280" r="2.7" fill="url(#gt)" stroke="#1d5f5b" stroke-width="0.6"/><circle cx="284.5" cy="304.1" r="2.7" fill="url(#gt)" stroke="#1d5f5b" stroke-width="0.6"/><circle cx="272.4" cy="388" r="2.7" fill="url(#gt)" stroke="#1d5f5b" stroke-width="0.6"/><circle cx="259.7" cy="399.65" r="2.7" fill="url(#gt)" stroke="#1d5f5b" stroke-width="0.6"/><circle cx="246" cy="401.99" r="2.7" fill="url(#gt)" stroke="#1d5f5b" stroke-width="0.6"/><circle cx="232.9" cy="403.81" r="2.7" fill="url(#gt)" stroke="#1d5f5b" stroke-width="0.6"/><circle cx="219.7" cy="405.92" r="2.7" fill="url(#gt)" stroke="#1d5f5b" stroke-width="0.6"/><circle cx="205.7" cy="407.73" r="2.7" fill="url(#gt)" stroke="#1d5f5b" stroke-width="0.6"/><circle cx="191.7" cy="409.64" r="2.7" fill="url(#gt)" stroke="#1d5f5b" stroke-width="0.6"/><circle cx="178.5" cy="411.76" r="2.7" fill="url(#gt)" stroke="#1d5f5b" stroke-width="0.6"/><circle cx="164.5" cy="413.16" r="2.7" fill="url(#gt)" stroke="#1d5f5b" stroke-width="0.6"/><circle cx="150.5" cy="414.45" r="2.7" fill="url(#gt)" stroke="#1d5f5b" stroke-width="0.6"/><circle cx="137.4" cy="416.15" r="2.7" fill="url(#gt)" stroke="#1d5f5b" stroke-width="0.6"/><circle cx="123.5" cy="417.35" r="2.7" fill="url(#gt)" stroke="#1d5f5b" stroke-width="0.6"/><circle cx="108.9" cy="419.43" r="2.7" fill="url(#gt)" stroke="#1d5f5b" stroke-width="0.6"/><circle cx="95.8" cy="421.25" r="2.7" fill="url(#gt)" stroke="#1d5f5b" stroke-width="0.6"/><circle cx="81.2" cy="423.25" r="2.7" fill="url(#gt)" stroke="#1d5f5b" stroke-width="0.6"/><circle cx="67.3" cy="425.2" r="2.7" fill="url(#gt)" stroke="#1d5f5b" stroke-width="0.6"/></g><g clip-path="url(#cc)"><path d="M56 451.8L56 439.8L57.1 430.15L64.4 427.65L71.7 426.5L78.3 425.61L85.3 424.78L92.1 424L98.7 423L105.3 422.09L119.9 420.14L133 418.85L146.2 417.29L160.1 415.85L174.2 414.45L187.3 412.55L200.4 410.75L214.5 409L227.6 407.05L241.3 405.25L255.6 402.93L273 400.07L286.3 396.15L292.8 392.83L299 387.39L303.8 375.5L311.5 288L319.3 276.9L310.2 282.2L303.4 285.2L296.6 287.5L290.5 291.3L286.8 312.5L272 392L259.7 402.91L246 405.15L232.9 406.87L219.7 408.83L205.7 410.58L191.7 412.49L178.5 414.41L164.5 415.81L150.5 417.26L137.4 418.81L123.5 420.19L108.9 422.14L95.8 424.04L81.2 425.75L67.3 427.85" fill="none" stroke="#2c47ae" stroke-width="1.0" stroke-linejoin="round"/><circle cx="57.1" cy="430.15" r="2.7" fill="url(#gb)" stroke="#1c3080" stroke-width="0.6"/><circle cx="64.4" cy="427.65" r="2.7" fill="url(#gb)" stroke="#1c3080" stroke-width="0.6"/><circle cx="71.7" cy="426.5" r="2.7" fill="url(#gb)" stroke="#1c3080" stroke-width="0.6"/><circle cx="78.3" cy="425.61" r="2.7" fill="url(#gb)" stroke="#1c3080" stroke-width="0.6"/><circle cx="85.3" cy="424.78" r="2.7" fill="url(#gb)" stroke="#1c3080" stroke-width="0.6"/><circle cx="92.1" cy="424" r="2.7" fill="url(#gb)" stroke="#1c3080" stroke-width="0.6"/><circle cx="98.7" cy="423" r="2.7" fill="url(#gb)" stroke="#1c3080" stroke-width="0.6"/><circle cx="105.3" cy="422.09" r="2.7" fill="url(#gb)" stroke="#1c3080" stroke-width="0.6"/><circle cx="119.9" cy="420.14" r="2.7" fill="url(#gb)" stroke="#1c3080" stroke-width="0.6"/><circle cx="133" cy="418.85" r="2.7" fill="url(#gb)" stroke="#1c3080" stroke-width="0.6"/><circle cx="146.2" cy="417.29" r="2.7" fill="url(#gb)" stroke="#1c3080" stroke-width="0.6"/><circle cx="160.1" cy="415.85" r="2.7" fill="url(#gb)" stroke="#1c3080" stroke-width="0.6"/><circle cx="174.2" cy="414.45" r="2.7" fill="url(#gb)" stroke="#1c3080" stroke-width="0.6"/><circle cx="187.3" cy="412.55" r="2.7" fill="url(#gb)" stroke="#1c3080" stroke-width="0.6"/><circle cx="200.4" cy="410.75" r="2.7" fill="url(#gb)" stroke="#1c3080" stroke-width="0.6"/><circle cx="214.5" cy="409" r="2.7" fill="url(#gb)" stroke="#1c3080" stroke-width="0.6"/><circle cx="227.6" cy="407.05" r="2.7" fill="url(#gb)" stroke="#1c3080" stroke-width="0.6"/><circle cx="241.3" cy="405.25" r="2.7" fill="url(#gb)" stroke="#1c3080" stroke-width="0.6"/><circle cx="255.6" cy="402.93" r="2.7" fill="url(#gb)" stroke="#1c3080" stroke-width="0.6"/><circle cx="273" cy="400.07" r="2.7" fill="url(#gb)" stroke="#1c3080" stroke-width="0.6"/><circle cx="286.3" cy="396.15" r="2.7" fill="url(#gb)" stroke="#1c3080" stroke-width="0.6"/><circle cx="292.8" cy="392.83" r="2.7" fill="url(#gb)" stroke="#1c3080" stroke-width="0.6"/><circle cx="299" cy="387.39" r="2.7" fill="url(#gb)" stroke="#1c3080" stroke-width="0.6"/><circle cx="303.8" cy="375.5" r="2.7" fill="url(#gb)" stroke="#1c3080" stroke-width="0.6"/><circle cx="311.5" cy="288" r="2.7" fill="url(#gb)" stroke="#1c3080" stroke-width="0.6"/><circle cx="319.3" cy="276.9" r="2.7" fill="url(#gb)" stroke="#1c3080" stroke-width="0.6"/><circle cx="310.2" cy="282.2" r="2.7" fill="url(#gb)" stroke="#1c3080" stroke-width="0.6"/><circle cx="303.4" cy="285.2" r="2.7" fill="url(#gb)" stroke="#1c3080" stroke-width="0.6"/><circle cx="296.6" cy="287.5" r="2.7" fill="url(#gb)" stroke="#1c3080" stroke-width="0.6"/><circle cx="290.5" cy="291.3" r="2.7" fill="url(#gb)" stroke="#1c3080" stroke-width="0.6"/><circle cx="286.8" cy="312.5" r="2.7" fill="url(#gb)" stroke="#1c3080" stroke-width="0.6"/><circle cx="272" cy="392" r="2.7" fill="url(#gb)" stroke="#1c3080" stroke-width="0.6"/><circle cx="259.7" cy="402.91" r="2.7" fill="url(#gb)" stroke="#1c3080" stroke-width="0.6"/><circle cx="246" cy="405.15" r="2.7" fill="url(#gb)" stroke="#1c3080" stroke-width="0.6"/><circle cx="232.9" cy="406.87" r="2.7" fill="url(#gb)" stroke="#1c3080" stroke-width="0.6"/><circle cx="219.7" cy="408.83" r="2.7" fill="url(#gb)" stroke="#1c3080" stroke-width="0.6"/><circle cx="205.7" cy="410.58" r="2.7" fill="url(#gb)" stroke="#1c3080" stroke-width="0.6"/><circle cx="191.7" cy="412.49" r="2.7" fill="url(#gb)" stroke="#1c3080" stroke-width="0.6"/><circle cx="178.5" cy="414.41" r="2.7" fill="url(#gb)" stroke="#1c3080" stroke-width="0.6"/><circle cx="164.5" cy="415.81" r="2.7" fill="url(#gb)" stroke="#1c3080" stroke-width="0.6"/><circle cx="150.5" cy="417.26" r="2.7" fill="url(#gb)" stroke="#1c3080" stroke-width="0.6"/><circle cx="137.4" cy="418.81" r="2.7" fill="url(#gb)" stroke="#1c3080" stroke-width="0.6"/><circle cx="123.5" cy="420.19" r="2.7" fill="url(#gb)" stroke="#1c3080" stroke-width="0.6"/><circle cx="108.9" cy="422.14" r="2.7" fill="url(#gb)" stroke="#1c3080" stroke-width="0.6"/><circle cx="95.8" cy="424.04" r="2.7" fill="url(#gb)" stroke="#1c3080" stroke-width="0.6"/><circle cx="81.2" cy="425.75" r="2.7" fill="url(#gb)" stroke="#1c3080" stroke-width="0.6"/><circle cx="67.3" cy="427.85" r="2.7" fill="url(#gb)" stroke="#1c3080" stroke-width="0.6"/></g><path d="M56.1 451.8L56.1 437.5Q56.3 433.5 57.6 432" fill="none" stroke="#e2291f" stroke-width="2.1" clip-path="url(#cc)"/><g clip-path="url(#cc)"><path d="M56 451.8L56 440L57.1 431.9L64.4 429.7L71.7 428.4L78.3 427.52L85.3 426.82L92.1 426.2L98.7 425.3L105.3 424.1L119.9 422.4L133 420.9L146.2 419.5L160.1 417.9L174.2 416.5L187.3 414.8L200.4 413L214.5 411.3L227.6 409.5L241.3 407.8L255.6 405.59L273 403.23L286.3 399.01L292.8 395.82L299 390.38L304.5 373.6L310.2 295.8L317.8 284.5L309.4 287.5L302.6 289.8L295.8 291L289.8 293.6L286.5 303.1L271.5 396.1L259.7 405.57L246 407.7L232.9 409.33L219.7 411.14L205.7 412.84L191.7 414.75L178.5 416.47L164.5 417.86L150.5 419.47L137.4 420.86L123.5 422.45L108.9 424.16L95.8 426.23L81.2 427.66L67.3 429.91" fill="none" stroke="#e2291f" stroke-width="1.0" stroke-linejoin="round"/><circle cx="57.1" cy="431.9" r="2.7" fill="url(#gr)" stroke="#a01a12" stroke-width="0.6"/><circle cx="64.4" cy="429.7" r="2.7" fill="url(#gr)" stroke="#a01a12" stroke-width="0.6"/><circle cx="71.7" cy="428.4" r="2.7" fill="url(#gr)" stroke="#a01a12" stroke-width="0.6"/><circle cx="78.3" cy="427.52" r="2.7" fill="url(#gr)" stroke="#a01a12" stroke-width="0.6"/><circle cx="85.3" cy="426.82" r="2.7" fill="url(#gr)" stroke="#a01a12" stroke-width="0.6"/><circle cx="92.1" cy="426.2" r="2.7" fill="url(#gr)" stroke="#a01a12" stroke-width="0.6"/><circle cx="98.7" cy="425.3" r="2.7" fill="url(#gr)" stroke="#a01a12" stroke-width="0.6"/><circle cx="105.3" cy="424.1" r="2.7" fill="url(#gr)" stroke="#a01a12" stroke-width="0.6"/><circle cx="119.9" cy="422.4" r="2.7" fill="url(#gr)" stroke="#a01a12" stroke-width="0.6"/><circle cx="133" cy="420.9" r="2.7" fill="url(#gr)" stroke="#a01a12" stroke-width="0.6"/><circle cx="146.2" cy="419.5" r="2.7" fill="url(#gr)" stroke="#a01a12" stroke-width="0.6"/><circle cx="160.1" cy="417.9" r="2.7" fill="url(#gr)" stroke="#a01a12" stroke-width="0.6"/><circle cx="174.2" cy="416.5" r="2.7" fill="url(#gr)" stroke="#a01a12" stroke-width="0.6"/><circle cx="187.3" cy="414.8" r="2.7" fill="url(#gr)" stroke="#a01a12" stroke-width="0.6"/><circle cx="200.4" cy="413" r="2.7" fill="url(#gr)" stroke="#a01a12" stroke-width="0.6"/><circle cx="214.5" cy="411.3" r="2.7" fill="url(#gr)" stroke="#a01a12" stroke-width="0.6"/><circle cx="227.6" cy="409.5" r="2.7" fill="url(#gr)" stroke="#a01a12" stroke-width="0.6"/><circle cx="241.3" cy="407.8" r="2.7" fill="url(#gr)" stroke="#a01a12" stroke-width="0.6"/><circle cx="255.6" cy="405.59" r="2.7" fill="url(#gr)" stroke="#a01a12" stroke-width="0.6"/><circle cx="273" cy="403.23" r="2.7" fill="url(#gr)" stroke="#a01a12" stroke-width="0.6"/><circle cx="286.3" cy="399.01" r="2.7" fill="url(#gr)" stroke="#a01a12" stroke-width="0.6"/><circle cx="292.8" cy="395.82" r="2.7" fill="url(#gr)" stroke="#a01a12" stroke-width="0.6"/><circle cx="299" cy="390.38" r="2.7" fill="url(#gr)" stroke="#a01a12" stroke-width="0.6"/><circle cx="304.5" cy="373.6" r="2.7" fill="url(#gr)" stroke="#a01a12" stroke-width="0.6"/><circle cx="310.2" cy="295.8" r="2.7" fill="url(#gr)" stroke="#a01a12" stroke-width="0.6"/><circle cx="317.8" cy="284.5" r="2.7" fill="url(#gr)" stroke="#a01a12" stroke-width="0.6"/><circle cx="309.4" cy="287.5" r="2.7" fill="url(#gr)" stroke="#a01a12" stroke-width="0.6"/><circle cx="302.6" cy="289.8" r="2.7" fill="url(#gr)" stroke="#a01a12" stroke-width="0.6"/><circle cx="295.8" cy="291" r="2.7" fill="url(#gr)" stroke="#a01a12" stroke-width="0.6"/><circle cx="289.8" cy="293.6" r="2.7" fill="url(#gr)" stroke="#a01a12" stroke-width="0.6"/><circle cx="286.5" cy="303.1" r="2.7" fill="url(#gr)" stroke="#a01a12" stroke-width="0.6"/><circle cx="271.5" cy="396.1" r="2.7" fill="url(#gr)" stroke="#a01a12" stroke-width="0.6"/><circle cx="259.7" cy="405.57" r="2.7" fill="url(#gr)" stroke="#a01a12" stroke-width="0.6"/><circle cx="246" cy="407.7" r="2.7" fill="url(#gr)" stroke="#a01a12" stroke-width="0.6"/><circle cx="232.9" cy="409.33" r="2.7" fill="url(#gr)" stroke="#a01a12" stroke-width="0.6"/><circle cx="219.7" cy="411.14" r="2.7" fill="url(#gr)" stroke="#a01a12" stroke-width="0.6"/><circle cx="205.7" cy="412.84" r="2.7" fill="url(#gr)" stroke="#a01a12" stroke-width="0.6"/><circle cx="191.7" cy="414.75" r="2.7" fill="url(#gr)" stroke="#a01a12" stroke-width="0.6"/><circle cx="178.5" cy="416.47" r="2.7" fill="url(#gr)" stroke="#a01a12" stroke-width="0.6"/><circle cx="164.5" cy="417.86" r="2.7" fill="url(#gr)" stroke="#a01a12" stroke-width="0.6"/><circle cx="150.5" cy="419.47" r="2.7" fill="url(#gr)" stroke="#a01a12" stroke-width="0.6"/><circle cx="137.4" cy="420.86" r="2.7" fill="url(#gr)" stroke="#a01a12" stroke-width="0.6"/><circle cx="123.5" cy="422.45" r="2.7" fill="url(#gr)" stroke="#a01a12" stroke-width="0.6"/><circle cx="108.9" cy="424.16" r="2.7" fill="url(#gr)" stroke="#a01a12" stroke-width="0.6"/><circle cx="95.8" cy="426.23" r="2.7" fill="url(#gr)" stroke="#a01a12" stroke-width="0.6"/><circle cx="81.2" cy="427.66" r="2.7" fill="url(#gr)" stroke="#a01a12" stroke-width="0.6"/><circle cx="67.3" cy="429.91" r="2.7" fill="url(#gr)" stroke="#a01a12" stroke-width="0.6"/></g><rect x="54.7" y="251.3" width="270.9" height="200.5" fill="none" stroke="#1c1c1c" stroke-width="1.25"/><line x1="50.2" y1="451.8" x2="54.7" y2="451.8" stroke="#1c1c1c" stroke-width="1.2"/><text x="48.8" y="456.2" font-size="14" text-anchor="end" font-weight="normal" >0</text><line x1="52.2" y1="426.74" x2="54.7" y2="426.74" stroke="#1c1c1c" stroke-width="1.2"/><line x1="50.2" y1="401.68" x2="54.7" y2="401.68" stroke="#1c1c1c" stroke-width="1.2"/><text x="48.8" y="406.07" font-size="14" text-anchor="end" font-weight="normal" >400</text><line x1="52.2" y1="376.61" x2="54.7" y2="376.61" stroke="#1c1c1c" stroke-width="1.2"/><line x1="50.2" y1="351.55" x2="54.7" y2="351.55" stroke="#1c1c1c" stroke-width="1.2"/><text x="48.8" y="355.95" font-size="14" text-anchor="end" font-weight="normal" >800</text><line x1="52.2" y1="326.49" x2="54.7" y2="326.49" stroke="#1c1c1c" stroke-width="1.2"/><line x1="50.2" y1="301.43" x2="54.7" y2="301.43" stroke="#1c1c1c" stroke-width="1.2"/><text x="48.8" y="305.82" font-size="14" text-anchor="end" font-weight="normal" >1200</text><line x1="52.2" y1="276.36" x2="54.7" y2="276.36" stroke="#1c1c1c" stroke-width="1.2"/><line x1="50.2" y1="251.3" x2="54.7" y2="251.3" stroke="#1c1c1c" stroke-width="1.2"/><text x="48.8" y="255.7" font-size="14" text-anchor="end" font-weight="normal" >1600</text><line x1="54.7" y1="451.8" x2="54.7" y2="455.8" stroke="#1c1c1c" stroke-width="1.2"/><text x="54.7" y="471.2" font-size="14" text-anchor="middle" font-weight="normal" >0.0</text><line x1="81.79" y1="451.8" x2="81.79" y2="454.1" stroke="#1c1c1c" stroke-width="1.2"/><line x1="108.88" y1="451.8" x2="108.88" y2="455.8" stroke="#1c1c1c" stroke-width="1.2"/><text x="108.88" y="471.2" font-size="14" text-anchor="middle" font-weight="normal" >0.2</text><line x1="135.97" y1="451.8" x2="135.97" y2="454.1" stroke="#1c1c1c" stroke-width="1.2"/><line x1="163.06" y1="451.8" x2="163.06" y2="455.8" stroke="#1c1c1c" stroke-width="1.2"/><text x="163.06" y="471.2" font-size="14" text-anchor="middle" font-weight="normal" >0.4</text><line x1="190.15" y1="451.8" x2="190.15" y2="454.1" stroke="#1c1c1c" stroke-width="1.2"/><line x1="217.24" y1="451.8" x2="217.24" y2="455.8" stroke="#1c1c1c" stroke-width="1.2"/><text x="217.24" y="471.2" font-size="14" text-anchor="middle" font-weight="normal" >0.6</text><line x1="244.33" y1="451.8" x2="244.33" y2="454.1" stroke="#1c1c1c" stroke-width="1.2"/><line x1="271.42" y1="451.8" x2="271.42" y2="455.8" stroke="#1c1c1c" stroke-width="1.2"/><text x="271.42" y="471.2" font-size="14" text-anchor="middle" font-weight="normal" >0.8</text><line x1="298.51" y1="451.8" x2="298.51" y2="454.1" stroke="#1c1c1c" stroke-width="1.2"/><line x1="325.6" y1="451.8" x2="325.6" y2="455.8" stroke="#1c1c1c" stroke-width="1.2"/><text x="325.6" y="471.2" font-size="14" text-anchor="middle" font-weight="normal" >1.0</text><text x="190.5" y="487.8" font-size="13.75" text-anchor="middle" font-weight="normal" >P/P<tspan dy="-3.8" font-size="10.5">0</tspan></text><text x="0" y="0" font-size="13.75" text-anchor="middle" font-weight="normal" transform="translate(12.6,350.6) rotate(-90)">Volume (cm<tspan dy="-3.8" font-size="10.5">3</tspan><tspan dy="3.8"> g</tspan><tspan dy="-3.8" font-size="10.5">−1</tspan><tspan dy="3.8">)</tspan></text><text x="60" y="267" font-size="13.5" text-anchor="start" font-weight="bold" >(c)</text><line x1="68" y1="282.3" x2="89.8" y2="282.3" stroke="#111111" stroke-width="1.1"/><circle cx="78.8" cy="282.3" r="2.5" fill="url(#gk)" stroke="#000" stroke-width="0.6"/><text x="92.6" y="286.2" font-size="12" text-anchor="start" font-weight="bold" >Fe-N-C; S<tspan dy="2.6" font-size="8.5">BET</tspan><tspan dy="-2.6">=681 m</tspan><tspan dy="-3.6" font-size="9.2">2</tspan><tspan dy="3.6"> g</tspan><tspan dy="-3.6" font-size="9.2">−1</tspan></text><line x1="68" y1="302.37" x2="89.8" y2="302.37" stroke="#4a9e97" stroke-width="1.1"/><circle cx="78.8" cy="302.37" r="2.5" fill="url(#gt)" stroke="#1d5f5b" stroke-width="0.6"/><text x="92.6" y="306.27" font-size="12" text-anchor="start" font-weight="bold" >Fe-N-C/control; S<tspan dy="2.6" font-size="8.5">BET</tspan><tspan dy="-2.6">=944 m</tspan><tspan dy="-3.6" font-size="9.2">2</tspan><tspan dy="3.6"> g</tspan><tspan dy="-3.6" font-size="9.2">−1</tspan></text><line x1="68" y1="322.44" x2="89.8" y2="322.44" stroke="#3d5bc4" stroke-width="1.1"/><circle cx="78.8" cy="322.44" r="2.5" fill="url(#gb)" stroke="#1c3080" stroke-width="0.6"/><text x="92.6" y="326.34" font-size="12" text-anchor="start" font-weight="bold" >Fe-N-C/N; S<tspan dy="2.6" font-size="8.5">BET</tspan><tspan dy="-2.6">=845 m</tspan><tspan dy="-3.6" font-size="9.2">2</tspan><tspan dy="3.6"> g</tspan><tspan dy="-3.6" font-size="9.2">−1</tspan></text><line x1="68" y1="342.51" x2="89.8" y2="342.51" stroke="#ee6a5f" stroke-width="1.1"/><circle cx="78.8" cy="342.51" r="2.5" fill="url(#gr)" stroke="#a01a12" stroke-width="0.6"/><text x="92.6" y="346.41" font-size="12" text-anchor="start" font-weight="bold" >Fe-N-C/FeN; S<tspan dy="2.6" font-size="8.5">BET</tspan><tspan dy="-2.6">=782 m</tspan><tspan dy="-3.6" font-size="9.2">2</tspan><tspan dy="3.6"> g</tspan><tspan dy="-3.6" font-size="9.2">−1</tspan></text><clipPath id="cdl"><rect x="398.4" y="251.3" width="133.4" height="202.9"/></clipPath><clipPath id="cdr"><rect x="535.6" y="251.3" width="133.9" height="202.9"/></clipPath><g clip-path="url(#cdl)"><path d="M398.5 452L403.8 451.81L410 448.73L416 444L421.9 437L427.2 427.4L432.5 415.43L437.4 399.76L442.2 383.53L446.8 368.3L451.3 357.95L455.6 351.4L459.8 350.4L463.7 355.4L467.5 364.69L471 377.58L474.5 392.03L477.9 406.4L481.3 421.19L484.5 432.51L487.6 440.28L490.6 445.25L493.3 447.94L495.75 449.79L498.2 451.07L500.65 451.84L503.1 451.89L505.55 451.08L508 449.87L510.45 448.4L512.9 447.38L515.35 446.35L517.8 445.52L520.25 444.37L522.7 443.19L525.15 441.91L527.6 440.23L530.05 439.02" fill="none" stroke="#111111" stroke-width="1.0" stroke-linejoin="round"/><circle cx="398.5" cy="452" r="2.8" fill="url(#gk)" stroke="#000" stroke-width="0.6"/><circle cx="403.8" cy="451.81" r="2.8" fill="url(#gk)" stroke="#000" stroke-width="0.6"/><circle cx="410" cy="448.73" r="2.8" fill="url(#gk)" stroke="#000" stroke-width="0.6"/><circle cx="416" cy="444" r="2.8" fill="url(#gk)" stroke="#000" stroke-width="0.6"/><circle cx="421.9" cy="437" r="2.8" fill="url(#gk)" stroke="#000" stroke-width="0.6"/><circle cx="427.2" cy="427.4" r="2.8" fill="url(#gk)" stroke="#000" stroke-width="0.6"/><circle cx="432.5" cy="415.43" r="2.8" fill="url(#gk)" stroke="#000" stroke-width="0.6"/><circle cx="437.4" cy="399.76" r="2.8" fill="url(#gk)" stroke="#000" stroke-width="0.6"/><circle cx="442.2" cy="383.53" r="2.8" fill="url(#gk)" stroke="#000" stroke-width="0.6"/><circle cx="446.8" cy="368.3" r="2.8" fill="url(#gk)" stroke="#000" stroke-width="0.6"/><circle cx="451.3" cy="357.95" r="2.8" fill="url(#gk)" stroke="#000" stroke-width="0.6"/><circle cx="455.6" cy="351.4" r="2.8" fill="url(#gk)" stroke="#000" stroke-width="0.6"/><circle cx="459.8" cy="350.4" r="2.8" fill="url(#gk)" stroke="#000" stroke-width="0.6"/><circle cx="463.7" cy="355.4" r="2.8" fill="url(#gk)" stroke="#000" stroke-width="0.6"/><circle cx="467.5" cy="364.69" r="2.8" fill="url(#gk)" stroke="#000" stroke-width="0.6"/><circle cx="471" cy="377.58" r="2.8" fill="url(#gk)" stroke="#000" stroke-width="0.6"/><circle cx="474.5" cy="392.03" r="2.8" fill="url(#gk)" stroke="#000" stroke-width="0.6"/><circle cx="477.9" cy="406.4" r="2.8" fill="url(#gk)" stroke="#000" stroke-width="0.6"/><circle cx="481.3" cy="421.19" r="2.8" fill="url(#gk)" stroke="#000" stroke-width="0.6"/><circle cx="484.5" cy="432.51" r="2.8" fill="url(#gk)" stroke="#000" stroke-width="0.6"/><circle cx="487.6" cy="440.28" r="2.8" fill="url(#gk)" stroke="#000" stroke-width="0.6"/><circle cx="490.6" cy="445.25" r="2.8" fill="url(#gk)" stroke="#000" stroke-width="0.6"/><circle cx="493.3" cy="447.94" r="2.8" fill="url(#gk)" stroke="#000" stroke-width="0.6"/><circle cx="495.75" cy="449.79" r="2.8" fill="url(#gk)" stroke="#000" stroke-width="0.6"/><circle cx="498.2" cy="451.07" r="2.8" fill="url(#gk)" stroke="#000" stroke-width="0.6"/><circle cx="500.65" cy="451.84" r="2.8" fill="url(#gk)" stroke="#000" stroke-width="0.6"/><circle cx="503.1" cy="451.89" r="2.8" fill="url(#gk)" stroke="#000" stroke-width="0.6"/><circle cx="505.55" cy="451.08" r="2.8" fill="url(#gk)" stroke="#000" stroke-width="0.6"/><circle cx="508" cy="449.87" r="2.8" fill="url(#gk)" stroke="#000" stroke-width="0.6"/><circle cx="510.45" cy="448.4" r="2.8" fill="url(#gk)" stroke="#000" stroke-width="0.6"/><circle cx="512.9" cy="447.38" r="2.8" fill="url(#gk)" stroke="#000" stroke-width="0.6"/><circle cx="515.35" cy="446.35" r="2.8" fill="url(#gk)" stroke="#000" stroke-width="0.6"/><circle cx="517.8" cy="445.52" r="2.8" fill="url(#gk)" stroke="#000" stroke-width="0.6"/><circle cx="520.25" cy="444.37" r="2.8" fill="url(#gk)" stroke="#000" stroke-width="0.6"/><circle cx="522.7" cy="443.19" r="2.8" fill="url(#gk)" stroke="#000" stroke-width="0.6"/><circle cx="525.15" cy="441.91" r="2.8" fill="url(#gk)" stroke="#000" stroke-width="0.6"/><circle cx="527.6" cy="440.23" r="2.8" fill="url(#gk)" stroke="#000" stroke-width="0.6"/><circle cx="530.05" cy="439.02" r="2.8" fill="url(#gk)" stroke="#000" stroke-width="0.6"/></g><g clip-path="url(#cdl)"><path d="M398.5 451.5L403.8 451.4L410 451L416 445.1L421.9 436.9L427.2 419.65L432.5 398.95L437.4 372.59L442.2 345.68L446.8 324.6L451.3 309.1L455.6 302.4L459.8 305.09L463.7 316.03L467.5 329.1L471 345.59L474.5 363.72L477.9 384.02L481.3 401.05L484.5 415.7L487.6 428.89L490.6 439.84L493.3 445.8L495.75 445.76L498.2 445.66L500.65 445.33L503.1 444.25L505.55 441.81L508 437.35L510.45 435.45L512.9 435.41L515.35 436.14L517.8 437L520.25 437.82L522.7 438.67L525.15 439.44L527.6 439.97L530.05 440.24" fill="none" stroke="#2a837e" stroke-width="1.0" stroke-linejoin="round"/><circle cx="398.5" cy="451.5" r="2.8" fill="url(#gt)" stroke="#1d5f5b" stroke-width="0.6"/><circle cx="403.8" cy="451.4" r="2.8" fill="url(#gt)" stroke="#1d5f5b" stroke-width="0.6"/><circle cx="410" cy="451" r="2.8" fill="url(#gt)" stroke="#1d5f5b" stroke-width="0.6"/><circle cx="416" cy="445.1" r="2.8" fill="url(#gt)" stroke="#1d5f5b" stroke-width="0.6"/><circle cx="421.9" cy="436.9" r="2.8" fill="url(#gt)" stroke="#1d5f5b" stroke-width="0.6"/><circle cx="427.2" cy="419.65" r="2.8" fill="url(#gt)" stroke="#1d5f5b" stroke-width="0.6"/><circle cx="432.5" cy="398.95" r="2.8" fill="url(#gt)" stroke="#1d5f5b" stroke-width="0.6"/><circle cx="437.4" cy="372.59" r="2.8" fill="url(#gt)" stroke="#1d5f5b" stroke-width="0.6"/><circle cx="442.2" cy="345.68" r="2.8" fill="url(#gt)" stroke="#1d5f5b" stroke-width="0.6"/><circle cx="446.8" cy="324.6" r="2.8" fill="url(#gt)" stroke="#1d5f5b" stroke-width="0.6"/><circle cx="451.3" cy="309.1" r="2.8" fill="url(#gt)" stroke="#1d5f5b" stroke-width="0.6"/><circle cx="455.6" cy="302.4" r="2.8" fill="url(#gt)" stroke="#1d5f5b" stroke-width="0.6"/><circle cx="459.8" cy="305.09" r="2.8" fill="url(#gt)" stroke="#1d5f5b" stroke-width="0.6"/><circle cx="463.7" cy="316.03" r="2.8" fill="url(#gt)" stroke="#1d5f5b" stroke-width="0.6"/><circle cx="467.5" cy="329.1" r="2.8" fill="url(#gt)" stroke="#1d5f5b" stroke-width="0.6"/><circle cx="471" cy="345.59" r="2.8" fill="url(#gt)" stroke="#1d5f5b" stroke-width="0.6"/><circle cx="474.5" cy="363.72" r="2.8" fill="url(#gt)" stroke="#1d5f5b" stroke-width="0.6"/><circle cx="477.9" cy="384.02" r="2.8" fill="url(#gt)" stroke="#1d5f5b" stroke-width="0.6"/><circle cx="481.3" cy="401.05" r="2.8" fill="url(#gt)" stroke="#1d5f5b" stroke-width="0.6"/><circle cx="484.5" cy="415.7" r="2.8" fill="url(#gt)" stroke="#1d5f5b" stroke-width="0.6"/><circle cx="487.6" cy="428.89" r="2.8" fill="url(#gt)" stroke="#1d5f5b" stroke-width="0.6"/><circle cx="490.6" cy="439.84" r="2.8" fill="url(#gt)" stroke="#1d5f5b" stroke-width="0.6"/><circle cx="493.3" cy="445.8" r="2.8" fill="url(#gt)" stroke="#1d5f5b" stroke-width="0.6"/><circle cx="495.75" cy="445.76" r="2.8" fill="url(#gt)" stroke="#1d5f5b" stroke-width="0.6"/><circle cx="498.2" cy="445.66" r="2.8" fill="url(#gt)" stroke="#1d5f5b" stroke-width="0.6"/><circle cx="500.65" cy="445.33" r="2.8" fill="url(#gt)" stroke="#1d5f5b" stroke-width="0.6"/><circle cx="503.1" cy="444.25" r="2.8" fill="url(#gt)" stroke="#1d5f5b" stroke-width="0.6"/><circle cx="505.55" cy="441.81" r="2.8" fill="url(#gt)" stroke="#1d5f5b" stroke-width="0.6"/><circle cx="508" cy="437.35" r="2.8" fill="url(#gt)" stroke="#1d5f5b" stroke-width="0.6"/><circle cx="510.45" cy="435.45" r="2.8" fill="url(#gt)" stroke="#1d5f5b" stroke-width="0.6"/><circle cx="512.9" cy="435.41" r="2.8" fill="url(#gt)" stroke="#1d5f5b" stroke-width="0.6"/><circle cx="515.35" cy="436.14" r="2.8" fill="url(#gt)" stroke="#1d5f5b" stroke-width="0.6"/><circle cx="517.8" cy="437" r="2.8" fill="url(#gt)" stroke="#1d5f5b" stroke-width="0.6"/><circle cx="520.25" cy="437.82" r="2.8" fill="url(#gt)" stroke="#1d5f5b" stroke-width="0.6"/><circle cx="522.7" cy="438.67" r="2.8" fill="url(#gt)" stroke="#1d5f5b" stroke-width="0.6"/><circle cx="525.15" cy="439.44" r="2.8" fill="url(#gt)" stroke="#1d5f5b" stroke-width="0.6"/><circle cx="527.6" cy="439.97" r="2.8" fill="url(#gt)" stroke="#1d5f5b" stroke-width="0.6"/><circle cx="530.05" cy="440.24" r="2.8" fill="url(#gt)" stroke="#1d5f5b" stroke-width="0.6"/></g><g clip-path="url(#cdl)"><path d="M398.5 451.6L403.8 451.56L410 451.37L416 451L421.9 444.5L427.2 431.4L432.5 411.89L437.4 384.76L442.2 356.15L446.8 332.6L451.3 319.4L455.6 315.8L459.8 322L463.7 334.5L467.5 347.88L471 366.36L474.5 384.89L477.9 400.8L481.3 417.53L484.5 430.4L487.6 440.47L490.6 446.32L493.3 448.78L495.75 450.28L498.2 450.41L500.65 449.76L503.1 447.95L505.55 445.74L508 443.33L510.45 442.12L512.9 441.52L515.35 441.04L517.8 441.16L520.25 441.53L522.7 441.91L525.15 441.93L527.6 441.56L530.05 441.21" fill="none" stroke="#2c47ae" stroke-width="1.0" stroke-linejoin="round"/><circle cx="398.5" cy="451.6" r="2.8" fill="url(#gb)" stroke="#1c3080" stroke-width="0.6"/><circle cx="403.8" cy="451.56" r="2.8" fill="url(#gb)" stroke="#1c3080" stroke-width="0.6"/><circle cx="410" cy="451.37" r="2.8" fill="url(#gb)" stroke="#1c3080" stroke-width="0.6"/><circle cx="416" cy="451" r="2.8" fill="url(#gb)" stroke="#1c3080" stroke-width="0.6"/><circle cx="421.9" cy="444.5" r="2.8" fill="url(#gb)" stroke="#1c3080" stroke-width="0.6"/><circle cx="427.2" cy="431.4" r="2.8" fill="url(#gb)" stroke="#1c3080" stroke-width="0.6"/><circle cx="432.5" cy="411.89" r="2.8" fill="url(#gb)" stroke="#1c3080" stroke-width="0.6"/><circle cx="437.4" cy="384.76" r="2.8" fill="url(#gb)" stroke="#1c3080" stroke-width="0.6"/><circle cx="442.2" cy="356.15" r="2.8" fill="url(#gb)" stroke="#1c3080" stroke-width="0.6"/><circle cx="446.8" cy="332.6" r="2.8" fill="url(#gb)" stroke="#1c3080" stroke-width="0.6"/><circle cx="451.3" cy="319.4" r="2.8" fill="url(#gb)" stroke="#1c3080" stroke-width="0.6"/><circle cx="455.6" cy="315.8" r="2.8" fill="url(#gb)" stroke="#1c3080" stroke-width="0.6"/><circle cx="459.8" cy="322" r="2.8" fill="url(#gb)" stroke="#1c3080" stroke-width="0.6"/><circle cx="463.7" cy="334.5" r="2.8" fill="url(#gb)" stroke="#1c3080" stroke-width="0.6"/><circle cx="467.5" cy="347.88" r="2.8" fill="url(#gb)" stroke="#1c3080" stroke-width="0.6"/><circle cx="471" cy="366.36" r="2.8" fill="url(#gb)" stroke="#1c3080" stroke-width="0.6"/><circle cx="474.5" cy="384.89" r="2.8" fill="url(#gb)" stroke="#1c3080" stroke-width="0.6"/><circle cx="477.9" cy="400.8" r="2.8" fill="url(#gb)" stroke="#1c3080" stroke-width="0.6"/><circle cx="481.3" cy="417.53" r="2.8" fill="url(#gb)" stroke="#1c3080" stroke-width="0.6"/><circle cx="484.5" cy="430.4" r="2.8" fill="url(#gb)" stroke="#1c3080" stroke-width="0.6"/><circle cx="487.6" cy="440.47" r="2.8" fill="url(#gb)" stroke="#1c3080" stroke-width="0.6"/><circle cx="490.6" cy="446.32" r="2.8" fill="url(#gb)" stroke="#1c3080" stroke-width="0.6"/><circle cx="493.3" cy="448.78" r="2.8" fill="url(#gb)" stroke="#1c3080" stroke-width="0.6"/><circle cx="495.75" cy="450.28" r="2.8" fill="url(#gb)" stroke="#1c3080" stroke-width="0.6"/><circle cx="498.2" cy="450.41" r="2.8" fill="url(#gb)" stroke="#1c3080" stroke-width="0.6"/><circle cx="500.65" cy="449.76" r="2.8" fill="url(#gb)" stroke="#1c3080" stroke-width="0.6"/><circle cx="503.1" cy="447.95" r="2.8" fill="url(#gb)" stroke="#1c3080" stroke-width="0.6"/><circle cx="505.55" cy="445.74" r="2.8" fill="url(#gb)" stroke="#1c3080" stroke-width="0.6"/><circle cx="508" cy="443.33" r="2.8" fill="url(#gb)" stroke="#1c3080" stroke-width="0.6"/><circle cx="510.45" cy="442.12" r="2.8" fill="url(#gb)" stroke="#1c3080" stroke-width="0.6"/><circle cx="512.9" cy="441.52" r="2.8" fill="url(#gb)" stroke="#1c3080" stroke-width="0.6"/><circle cx="515.35" cy="441.04" r="2.8" fill="url(#gb)" stroke="#1c3080" stroke-width="0.6"/><circle cx="517.8" cy="441.16" r="2.8" fill="url(#gb)" stroke="#1c3080" stroke-width="0.6"/><circle cx="520.25" cy="441.53" r="2.8" fill="url(#gb)" stroke="#1c3080" stroke-width="0.6"/><circle cx="522.7" cy="441.91" r="2.8" fill="url(#gb)" stroke="#1c3080" stroke-width="0.6"/><circle cx="525.15" cy="441.93" r="2.8" fill="url(#gb)" stroke="#1c3080" stroke-width="0.6"/><circle cx="527.6" cy="441.56" r="2.8" fill="url(#gb)" stroke="#1c3080" stroke-width="0.6"/><circle cx="530.05" cy="441.21" r="2.8" fill="url(#gb)" stroke="#1c3080" stroke-width="0.6"/></g><g clip-path="url(#cdl)"><path d="M398.5 451.3L403.8 451.3L410 451.3L416 451.3L421.9 451.3L427.2 451.3L432.5 447.52L437.4 434.83L442.2 408.23L446.8 376.8L451.3 347.9L455.6 327.69L459.8 318.9L463.7 322.2L467.5 332.97L471 350.19L474.5 368.31L477.9 389.5L481.3 405.1L484.5 418.02L487.6 429.09L490.6 437.77L493.3 440.67L495.75 441.08L498.2 440.86L500.65 439.85L503.1 438.57L505.55 437.71L508 437.4L510.45 437.47L512.9 438.28L515.35 439.42L517.8 440.7L520.25 441.93L522.7 443.08L525.15 443.6L527.6 443.5L530.05 442.72" fill="none" stroke="#e2291f" stroke-width="1.0" stroke-linejoin="round"/><circle cx="398.5" cy="451.3" r="2.8" fill="url(#gr)" stroke="#a01a12" stroke-width="0.6"/><circle cx="403.8" cy="451.3" r="2.8" fill="url(#gr)" stroke="#a01a12" stroke-width="0.6"/><circle cx="410" cy="451.3" r="2.8" fill="url(#gr)" stroke="#a01a12" stroke-width="0.6"/><circle cx="416" cy="451.3" r="2.8" fill="url(#gr)" stroke="#a01a12" stroke-width="0.6"/><circle cx="421.9" cy="451.3" r="2.8" fill="url(#gr)" stroke="#a01a12" stroke-width="0.6"/><circle cx="427.2" cy="451.3" r="2.8" fill="url(#gr)" stroke="#a01a12" stroke-width="0.6"/><circle cx="432.5" cy="447.52" r="2.8" fill="url(#gr)" stroke="#a01a12" stroke-width="0.6"/><circle cx="437.4" cy="434.83" r="2.8" fill="url(#gr)" stroke="#a01a12" stroke-width="0.6"/><circle cx="442.2" cy="408.23" r="2.8" fill="url(#gr)" stroke="#a01a12" stroke-width="0.6"/><circle cx="446.8" cy="376.8" r="2.8" fill="url(#gr)" stroke="#a01a12" stroke-width="0.6"/><circle cx="451.3" cy="347.9" r="2.8" fill="url(#gr)" stroke="#a01a12" stroke-width="0.6"/><circle cx="455.6" cy="327.69" r="2.8" fill="url(#gr)" stroke="#a01a12" stroke-width="0.6"/><circle cx="459.8" cy="318.9" r="2.8" fill="url(#gr)" stroke="#a01a12" stroke-width="0.6"/><circle cx="463.7" cy="322.2" r="2.8" fill="url(#gr)" stroke="#a01a12" stroke-width="0.6"/><circle cx="467.5" cy="332.97" r="2.8" fill="url(#gr)" stroke="#a01a12" stroke-width="0.6"/><circle cx="471" cy="350.19" r="2.8" fill="url(#gr)" stroke="#a01a12" stroke-width="0.6"/><circle cx="474.5" cy="368.31" r="2.8" fill="url(#gr)" stroke="#a01a12" stroke-width="0.6"/><circle cx="477.9" cy="389.5" r="2.8" fill="url(#gr)" stroke="#a01a12" stroke-width="0.6"/><circle cx="481.3" cy="405.1" r="2.8" fill="url(#gr)" stroke="#a01a12" stroke-width="0.6"/><circle cx="484.5" cy="418.02" r="2.8" fill="url(#gr)" stroke="#a01a12" stroke-width="0.6"/><circle cx="487.6" cy="429.09" r="2.8" fill="url(#gr)" stroke="#a01a12" stroke-width="0.6"/><circle cx="490.6" cy="437.77" r="2.8" fill="url(#gr)" stroke="#a01a12" stroke-width="0.6"/><circle cx="493.3" cy="440.67" r="2.8" fill="url(#gr)" stroke="#a01a12" stroke-width="0.6"/><circle cx="495.75" cy="441.08" r="2.8" fill="url(#gr)" stroke="#a01a12" stroke-width="0.6"/><circle cx="498.2" cy="440.86" r="2.8" fill="url(#gr)" stroke="#a01a12" stroke-width="0.6"/><circle cx="500.65" cy="439.85" r="2.8" fill="url(#gr)" stroke="#a01a12" stroke-width="0.6"/><circle cx="503.1" cy="438.57" r="2.8" fill="url(#gr)" stroke="#a01a12" stroke-width="0.6"/><circle cx="505.55" cy="437.71" r="2.8" fill="url(#gr)" stroke="#a01a12" stroke-width="0.6"/><circle cx="508" cy="437.4" r="2.8" fill="url(#gr)" stroke="#a01a12" stroke-width="0.6"/><circle cx="510.45" cy="437.47" r="2.8" fill="url(#gr)" stroke="#a01a12" stroke-width="0.6"/><circle cx="512.9" cy="438.28" r="2.8" fill="url(#gr)" stroke="#a01a12" stroke-width="0.6"/><circle cx="515.35" cy="439.42" r="2.8" fill="url(#gr)" stroke="#a01a12" stroke-width="0.6"/><circle cx="517.8" cy="440.7" r="2.8" fill="url(#gr)" stroke="#a01a12" stroke-width="0.6"/><circle cx="520.25" cy="441.93" r="2.8" fill="url(#gr)" stroke="#a01a12" stroke-width="0.6"/><circle cx="522.7" cy="443.08" r="2.8" fill="url(#gr)" stroke="#a01a12" stroke-width="0.6"/><circle cx="525.15" cy="443.6" r="2.8" fill="url(#gr)" stroke="#a01a12" stroke-width="0.6"/><circle cx="527.6" cy="443.5" r="2.8" fill="url(#gr)" stroke="#a01a12" stroke-width="0.6"/><circle cx="530.05" cy="442.72" r="2.8" fill="url(#gr)" stroke="#a01a12" stroke-width="0.6"/></g><g clip-path="url(#cdr)"><path d="M537.3 452.7L542 452.5L556 452.3L589 448.8L598.9 423.2L611.1 377.9L621.6 433.1L628 448.5L638 451L651 451.2L670.5 451.2" fill="none" stroke="#111111" stroke-width="1.0" stroke-linejoin="round"/><circle cx="537.3" cy="452.7" r="2.9" fill="url(#gk)" stroke="#000" stroke-width="0.6"/><circle cx="542" cy="452.5" r="2.9" fill="url(#gk)" stroke="#000" stroke-width="0.6"/><circle cx="556" cy="452.3" r="2.9" fill="url(#gk)" stroke="#000" stroke-width="0.6"/><circle cx="589" cy="448.8" r="2.9" fill="url(#gk)" stroke="#000" stroke-width="0.6"/><circle cx="598.9" cy="423.2" r="2.9" fill="url(#gk)" stroke="#000" stroke-width="0.6"/><circle cx="611.1" cy="377.9" r="2.9" fill="url(#gk)" stroke="#000" stroke-width="0.6"/><circle cx="621.6" cy="433.1" r="2.9" fill="url(#gk)" stroke="#000" stroke-width="0.6"/><circle cx="628" cy="448.5" r="2.9" fill="url(#gk)" stroke="#000" stroke-width="0.6"/><circle cx="638" cy="451" r="2.9" fill="url(#gk)" stroke="#000" stroke-width="0.6"/><circle cx="651" cy="451.2" r="2.9" fill="url(#gk)" stroke="#000" stroke-width="0.6"/><circle cx="670.5" cy="451.2" r="2.9" fill="url(#gk)" stroke="#000" stroke-width="0.6"/></g><g clip-path="url(#cdr)"><path d="M537.3 445.4L542 446.5L547.5 452L551.5 452L556.3 439.2L561.4 451L597.8 445.2L606.1 417L611.6 341.6L622 394.2L628 447.4L637.9 450L650.5 450.6L670.5 450.8" fill="none" stroke="#2a837e" stroke-width="1.0" stroke-linejoin="round"/><circle cx="537.3" cy="445.4" r="2.9" fill="url(#gt)" stroke="#1d5f5b" stroke-width="0.6"/><circle cx="542" cy="446.5" r="2.9" fill="url(#gt)" stroke="#1d5f5b" stroke-width="0.6"/><circle cx="547.5" cy="452" r="2.9" fill="url(#gt)" stroke="#1d5f5b" stroke-width="0.6"/><circle cx="551.5" cy="452" r="2.9" fill="url(#gt)" stroke="#1d5f5b" stroke-width="0.6"/><circle cx="556.3" cy="439.2" r="2.9" fill="url(#gt)" stroke="#1d5f5b" stroke-width="0.6"/><circle cx="561.4" cy="451" r="2.9" fill="url(#gt)" stroke="#1d5f5b" stroke-width="0.6"/><circle cx="597.8" cy="445.2" r="2.9" fill="url(#gt)" stroke="#1d5f5b" stroke-width="0.6"/><circle cx="606.1" cy="417" r="2.9" fill="url(#gt)" stroke="#1d5f5b" stroke-width="0.6"/><circle cx="611.6" cy="341.6" r="2.9" fill="url(#gt)" stroke="#1d5f5b" stroke-width="0.6"/><circle cx="622" cy="394.2" r="2.9" fill="url(#gt)" stroke="#1d5f5b" stroke-width="0.6"/><circle cx="628" cy="447.4" r="2.9" fill="url(#gt)" stroke="#1d5f5b" stroke-width="0.6"/><circle cx="637.9" cy="450" r="2.9" fill="url(#gt)" stroke="#1d5f5b" stroke-width="0.6"/><circle cx="650.5" cy="450.6" r="2.9" fill="url(#gt)" stroke="#1d5f5b" stroke-width="0.6"/><circle cx="670.5" cy="450.8" r="2.9" fill="url(#gt)" stroke="#1d5f5b" stroke-width="0.6"/></g><g clip-path="url(#cdr)"><path d="M537 447.5L542 449.5L555.9 442.5L561.4 451.6L598.2 444.2L612.9 350.5L622.7 403.4L629.9 445.8L640 449.3L654.4 450.2L670.5 450.6" fill="none" stroke="#2c47ae" stroke-width="1.0" stroke-linejoin="round"/><circle cx="537" cy="447.5" r="2.9" fill="url(#gb)" stroke="#1c3080" stroke-width="0.6"/><circle cx="542" cy="449.5" r="2.9" fill="url(#gb)" stroke="#1c3080" stroke-width="0.6"/><circle cx="555.9" cy="442.5" r="2.9" fill="url(#gb)" stroke="#1c3080" stroke-width="0.6"/><circle cx="561.4" cy="451.6" r="2.9" fill="url(#gb)" stroke="#1c3080" stroke-width="0.6"/><circle cx="598.2" cy="444.2" r="2.9" fill="url(#gb)" stroke="#1c3080" stroke-width="0.6"/><circle cx="612.9" cy="350.5" r="2.9" fill="url(#gb)" stroke="#1c3080" stroke-width="0.6"/><circle cx="622.7" cy="403.4" r="2.9" fill="url(#gb)" stroke="#1c3080" stroke-width="0.6"/><circle cx="629.9" cy="445.8" r="2.9" fill="url(#gb)" stroke="#1c3080" stroke-width="0.6"/><circle cx="640" cy="449.3" r="2.9" fill="url(#gb)" stroke="#1c3080" stroke-width="0.6"/><circle cx="654.4" cy="450.2" r="2.9" fill="url(#gb)" stroke="#1c3080" stroke-width="0.6"/><circle cx="670.5" cy="450.6" r="2.9" fill="url(#gb)" stroke="#1c3080" stroke-width="0.6"/></g><g clip-path="url(#cdr)"><path d="M536.9 448.4L541.3 450.5L555.9 450.5L598.2 440.6L610.7 347.1L622.3 420.2L628.1 448L638.2 450.2L651.3 450.6L669.3 450.6" fill="none" stroke="#e2291f" stroke-width="1.0" stroke-linejoin="round"/><circle cx="536.9" cy="448.4" r="2.9" fill="url(#gr)" stroke="#a01a12" stroke-width="0.6"/><circle cx="541.3" cy="450.5" r="2.9" fill="url(#gr)" stroke="#a01a12" stroke-width="0.6"/><circle cx="555.9" cy="450.5" r="2.9" fill="url(#gr)" stroke="#a01a12" stroke-width="0.6"/><circle cx="598.2" cy="440.6" r="2.9" fill="url(#gr)" stroke="#a01a12" stroke-width="0.6"/><circle cx="610.7" cy="347.1" r="2.9" fill="url(#gr)" stroke="#a01a12" stroke-width="0.6"/><circle cx="622.3" cy="420.2" r="2.9" fill="url(#gr)" stroke="#a01a12" stroke-width="0.6"/><circle cx="628.1" cy="448" r="2.9" fill="url(#gr)" stroke="#a01a12" stroke-width="0.6"/><circle cx="638.2" cy="450.2" r="2.9" fill="url(#gr)" stroke="#a01a12" stroke-width="0.6"/><circle cx="651.3" cy="450.6" r="2.9" fill="url(#gr)" stroke="#a01a12" stroke-width="0.6"/><circle cx="669.3" cy="450.6" r="2.9" fill="url(#gr)" stroke="#a01a12" stroke-width="0.6"/></g><line x1="398.4" y1="251.3" x2="531.2" y2="251.3" stroke="#1c1c1c" stroke-width="1.25"/><line x1="536.6" y1="251.3" x2="669.5" y2="251.3" stroke="#1c1c1c" stroke-width="1.25"/><line x1="398.4" y1="454.2" x2="531.2" y2="454.2" stroke="#1c1c1c" stroke-width="1.25"/><line x1="536.6" y1="454.2" x2="669.5" y2="454.2" stroke="#1c1c1c" stroke-width="1.25"/><line x1="398.4" y1="250.7" x2="398.4" y2="454.8" stroke="#1c1c1c" stroke-width="1.25"/><line x1="669.5" y1="250.7" x2="669.5" y2="454.8" stroke="#1c1c1c" stroke-width="1.25"/><line x1="529.1" y1="255.7" x2="533.7" y2="247" stroke="#1c1c1c" stroke-width="1.2"/><line x1="533.9" y1="255.7" x2="538.5" y2="247" stroke="#1c1c1c" stroke-width="1.2"/><line x1="529.1" y1="458.6" x2="533.7" y2="449.9" stroke="#1c1c1c" stroke-width="1.2"/><line x1="533.9" y1="458.6" x2="538.5" y2="449.9" stroke="#1c1c1c" stroke-width="1.2"/><line x1="457.5" y1="454.2" x2="457.5" y2="458.2" stroke="#1c1c1c" stroke-width="1.2"/><line x1="504.2" y1="454.2" x2="504.2" y2="456.4" stroke="#1c1c1c" stroke-width="1.2"/><line x1="569.5" y1="454.2" x2="569.5" y2="456.4" stroke="#1c1c1c" stroke-width="1.2"/><line x1="602.4" y1="454.2" x2="602.4" y2="458.2" stroke="#1c1c1c" stroke-width="1.2"/><line x1="669.5" y1="454.2" x2="669.5" y2="458.2" stroke="#1c1c1c" stroke-width="1.2"/><text x="457.2" y="473.9" font-size="14" text-anchor="middle" font-weight="normal" >1</text><text x="532.6" y="473.9" font-size="14" text-anchor="middle" font-weight="normal" >2</text><text x="603.2" y="473.9" font-size="14" text-anchor="middle" font-weight="normal" >10</text><text x="669.5" y="473.9" font-size="14" text-anchor="middle" font-weight="normal" >40</text><text x="531" y="490" font-size="13.75" text-anchor="middle" font-weight="normal" >Pore width (nm)</text><text x="0" y="0" font-size="14.5" text-anchor="middle" font-weight="normal" transform="translate(391.9,350.7) rotate(-90)">dV/dD (cm<tspan dy="-3.8" font-size="10.5">3</tspan><tspan dy="3.8"> g</tspan><tspan dy="-3.8" font-size="10.5">−1</tspan><tspan dy="3.8"> nm</tspan><tspan dy="-3.8" font-size="10.5">−1</tspan><tspan dy="3.8">)</tspan></text><text x="403.7" y="267" font-size="13.5" text-anchor="start" font-weight="bold" >(d)</text><line x1="556.2" y1="268.9" x2="579.7" y2="268.9" stroke="#111111" stroke-width="1.1"/><circle cx="568.5" cy="268.9" r="2.6" fill="url(#gk)" stroke="#000" stroke-width="0.6"/><text x="582.4" y="272.8" font-size="12" text-anchor="start" font-weight="bold" >Fe-N-C</text><line x1="556.2" y1="284" x2="579.7" y2="284" stroke="#4a9e97" stroke-width="1.1"/><circle cx="568.5" cy="284" r="2.6" fill="url(#gt)" stroke="#1d5f5b" stroke-width="0.6"/><text x="582.4" y="287.9" font-size="12" text-anchor="start" font-weight="bold" >Fe-N-C/control</text><line x1="556.2" y1="299.1" x2="579.7" y2="299.1" stroke="#3d5bc4" stroke-width="1.1"/><circle cx="568.5" cy="299.1" r="2.6" fill="url(#gb)" stroke="#1c3080" stroke-width="0.6"/><text x="582.4" y="303" font-size="12" text-anchor="start" font-weight="bold" >Fe-N-C/N</text><line x1="556.2" y1="314.2" x2="579.7" y2="314.2" stroke="#ee6a5f" stroke-width="1.1"/><circle cx="568.5" cy="314.2" r="2.6" fill="url(#gr)" stroke="#a01a12" stroke-width="0.6"/><text x="582.4" y="318.1" font-size="12" text-anchor="start" font-weight="bold" >Fe-N-C/FeN</text></svg></body></html>
